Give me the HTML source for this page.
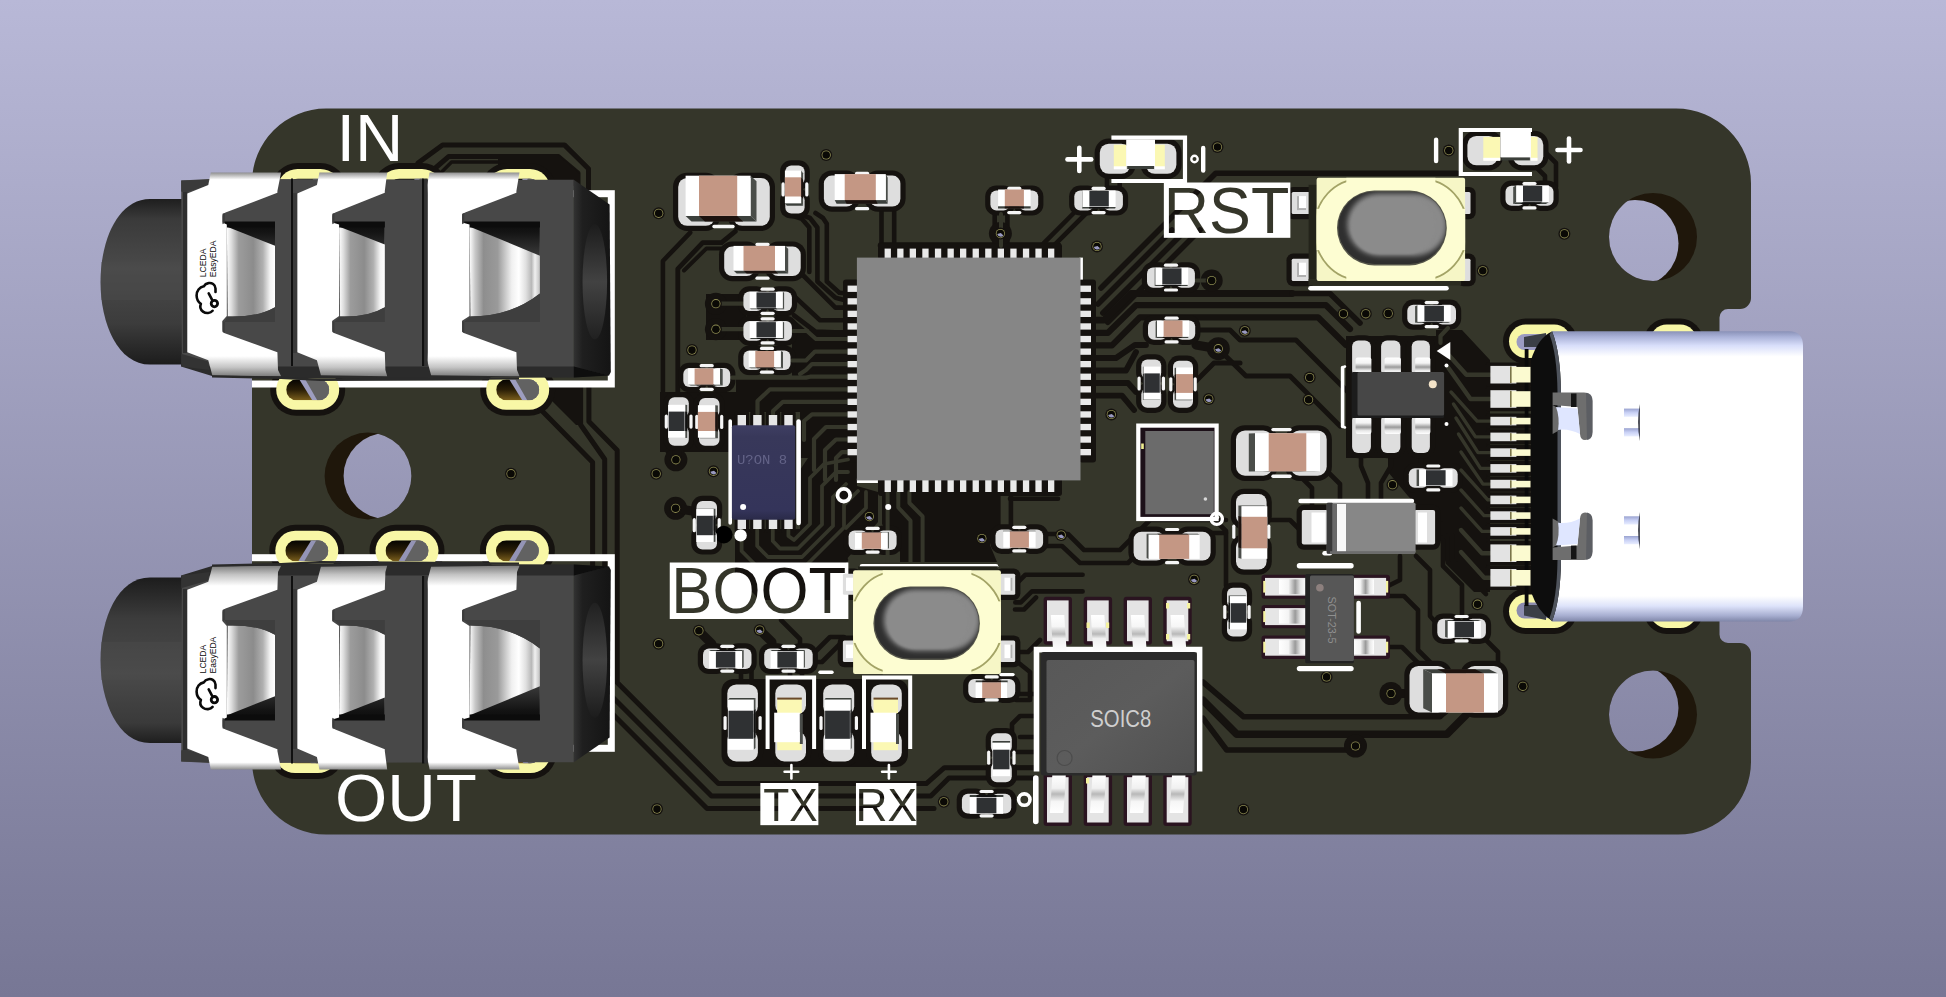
<!DOCTYPE html>
<html lang="en"><head><meta charset="utf-8"><title>PCB 3D view</title>
<style>html,body{margin:0;padding:0;background:#9797b6;overflow:hidden}svg{display:block}</style>
</head><body>
<svg width="1946" height="997" viewBox="0 0 1946 997" font-family="Liberation Sans, Arial, sans-serif"><defs><linearGradient id="bgG" x1="0" y1="0" x2="0" y2="1" ><stop offset="0" stop-color="#b8b8d7"/><stop offset="1" stop-color="#777795"/></linearGradient><clipPath id="boardClip"><path d="M326,108.5 H1676 A75,75 0 0 1 1751,183.5 V298 A11,11 0 0 1 1740,309 H1728 A8.5,8.5 0 0 0 1719.5,317.5 V634.5 A8.5,8.5 0 0 0 1728,643 H1740 A11,11 0 0 1 1751,654 V761.6 A73,73 0 0 1 1678,834.6 H326 A74,74 0 0 1 252,760.6 V182.5 A74,74 0 0 1 326,108.5 Z"/></clipPath><linearGradient id="bgG2" x1="0" y1="0" x2="0" y2="997" gradientUnits="userSpaceOnUse"><stop offset="0" stop-color="#b8b8d7"/><stop offset="1" stop-color="#777795"/></linearGradient><clipPath id="h368_476"><circle cx="368" cy="476" r="43.4"/></clipPath><clipPath id="h1653_237"><circle cx="1653" cy="237" r="44"/></clipPath><clipPath id="h1653_714"><circle cx="1653" cy="714.5" r="44"/></clipPath><linearGradient id="bandG" x1="0" y1="172.5" x2="0" y2="376.5" gradientUnits="userSpaceOnUse"><stop offset="0" stop-color="#8f8f8f"/><stop offset="0.035" stop-color="#ffffff"/><stop offset="0.9" stop-color="#ffffff"/><stop offset="0.955" stop-color="#c4c4c4"/><stop offset="1" stop-color="#7a7a7a"/></linearGradient><linearGradient id="barrelG" x1="0" y1="199" x2="0" y2="365" gradientUnits="userSpaceOnUse"><stop offset="0" stop-color="#1e1e1e"/><stop offset="0.12" stop-color="#3a3a3a"/><stop offset="0.42" stop-color="#4a4a4a"/><stop offset="0.75" stop-color="#3c3c3c"/><stop offset="1" stop-color="#1c1c1c"/></linearGradient><linearGradient id="shadowG" x1="0" y1="222" x2="0" y2="256" gradientUnits="userSpaceOnUse"><stop offset="0" stop-color="#0b0b0b"/><stop offset="0.3" stop-color="#141414"/><stop offset="1" stop-color="#3a3a3a"/></linearGradient><linearGradient id="endG" x1="573" y1="0" x2="611" y2="0" gradientUnits="userSpaceOnUse"><stop offset="0" stop-color="#343434"/><stop offset="0.25" stop-color="#1f1f1f"/><stop offset="1" stop-color="#141414"/></linearGradient><linearGradient id="holeG" x1="0" y1="224" x2="0" y2="340" gradientUnits="userSpaceOnUse"><stop offset="0" stop-color="#1c1c1c"/><stop offset="0.5" stop-color="#424242"/><stop offset="1" stop-color="#202020"/></linearGradient><linearGradient id="cyl1" x1="226.8" y1="0" x2="275.0" y2="0" gradientUnits="userSpaceOnUse"><stop offset="0" stop-color="#ffffff"/><stop offset="0.1" stop-color="#dcdcdc"/><stop offset="0.25" stop-color="#9c9c9c"/><stop offset="0.55" stop-color="#8c8c8c"/><stop offset="0.75" stop-color="#b0b0b0"/><stop offset="0.9" stop-color="#f4f4f4"/><stop offset="1" stop-color="#ffffff"/></linearGradient><linearGradient id="cyl2" x1="339.1" y1="0" x2="384.8" y2="0" gradientUnits="userSpaceOnUse"><stop offset="0" stop-color="#ffffff"/><stop offset="0.1" stop-color="#dcdcdc"/><stop offset="0.25" stop-color="#9c9c9c"/><stop offset="0.55" stop-color="#8c8c8c"/><stop offset="0.75" stop-color="#b0b0b0"/><stop offset="0.9" stop-color="#f4f4f4"/><stop offset="1" stop-color="#ffffff"/></linearGradient><linearGradient id="cyl3" x1="469.5" y1="0" x2="539.9" y2="0" gradientUnits="userSpaceOnUse"><stop offset="0" stop-color="#ffffff"/><stop offset="0.08" stop-color="#c8c8c8"/><stop offset="0.2" stop-color="#8e8e8e"/><stop offset="0.4" stop-color="#9a9a9a"/><stop offset="0.6" stop-color="#f0f0f0"/><stop offset="0.7" stop-color="#ffffff"/><stop offset="0.8" stop-color="#e0e0e0"/><stop offset="0.88" stop-color="#b8b8b8"/><stop offset="0.93" stop-color="#f0f0f0"/><stop offset="1" stop-color="#c0c0c0"/></linearGradient><g id="jack"><path d="M185,199 H150 C118,199 100.5,240 100.5,282 C100.5,324 118,364.6 150,364.6 H185 Z" fill="url(#barrelG)" /><path d="M101,262 H185 V300 H101 Z" fill="#4c4c4c" opacity="0.35"/><path d="M181,354 L573.8,366 L609.6,375 L573.8,377.5 L320,378.8 L212,376 L181,366.4 Z" fill="#2b2b2b" /><path d="M181.2,180.4 L208.3,179 L573.8,179.8 L573.8,366.4 L208.3,366.4 L181.8,366.4 Z" fill="#484848" /><path d="M181.2,180.4 L208.3,179.8 L208.3,185.4 L184.9,192.8 L181.2,191.5 Z" fill="#3a3a3a" /><path d="M181.8,354.1 L208.3,361.5 L209.6,370.1 L181.8,366.4 Z" fill="#333333" /><path d="M183,192 L187.3,192 L187.3,353 L183,353 Z" fill="#2e2e2e" /><path d="M573.8,179.8 L609.6,204.5 L610.8,372 L609,375.5 L573.8,366.4 Z" fill="url(#endG)" /><ellipse cx="594.8" cy="281.7" rx="12.3" ry="57.6" fill="url(#holeG)"/><path d="M573.8,366.4 L609.6,375.5 L573.8,377.5 Z" fill="#0e0e0e" /><path d="M226.8,222.0 H275.0 V307.2 Q256.9,317.5 227.8,316.5 Z" fill="url(#cyl1)"/><path d="M227.8,316.5 Q256.9,317.5 275.0,307.2 V322 H224.5 Z" fill="#3e3e3e"/><path d="M223.5,222.0 H275.0 V245.7 L227.8,227.0 Z" fill="url(#shadowG)"/><path d="M223.5,221.5 H275.0 V227.5 H226.8 Z" fill="#0c0c0c"/><path d="M210.8,172.5 H281.1 L277.4,190.9 L277.4,192.8 L225.5,212.6 Q222.5,213.8 222.5,216.5 L222.5,222.5 L226.8,224.5 L226.8,316 L222.5,320.8 L222.5,329.5 Q222.5,332.4 225.5,333.6 L277.4,352.3 L278.0,370 L281.1,376.3 L212.3,375.3 L208.3,360.3 L187.3,352.3 L187.3,193.4 L208.3,185 Z" fill="url(#bandG)"/><path d="M222.5,213.8 L224.7,213 L224.7,223 L222.5,224.2 Z" fill="#3c3c3c"/><path d="M222.5,321 L224.7,322 L224.7,333 L222.5,332 Z" fill="#3c3c3c"/><path d="M339.1,222.0 H384.8 V307.2 Q367.95000000000005,317.5 340.1,316.5 Z" fill="url(#cyl2)"/><path d="M340.1,316.5 Q367.95000000000005,317.5 384.8,307.2 V322 H334.3 Z" fill="#3e3e3e"/><path d="M333.3,222.0 H384.8 V244.6 L340.1,227.0 Z" fill="url(#shadowG)"/><path d="M333.3,221.5 H384.8 V227.5 H339.1 Z" fill="#0c0c0c"/><path d="M319.4,172.5 H387.2 L384.8,190.9 L384.8,192.8 L335.3,212.6 Q332.3,213.8 332.3,216.5 L332.3,222.5 L339.1,224.5 L339.1,316 L332.3,320.8 L332.3,329.5 Q332.3,332.4 335.3,333.6 L384.8,352.3 L385.40000000000003,370 L387.2,376.3 L320.9,375.3 L316.9,360.3 L297.2,352.3 L297.2,193.4 L316.9,185 Z" fill="url(#bandG)"/><path d="M332.3,213.8 L334.5,213 L334.5,223 L332.3,224.2 Z" fill="#3c3c3c"/><path d="M332.3,321 L334.5,322 L334.5,333 L332.3,332 Z" fill="#3c3c3c"/><path d="M469.5,222.0 H539.9 V293.6 Q510.7,316.5 470.5,316.5 Z" fill="url(#cyl3)"/><path d="M470.5,316.5 Q510.7,316.5 539.9,293.6 V322 H464.1 Z" fill="#3e3e3e"/><path d="M463.1,222.0 H539.9 V255.7 L470.5,227.0 Z" fill="url(#shadowG)"/><path d="M463.1,221.5 H539.9 V227.5 H469.5 Z" fill="#0c0c0c"/><path d="M429.6,172.5 H519.5 L516.4,190.9 L516.4,192.8 L465.1,212.6 Q462.1,213.8 462.1,216.5 L462.1,222.5 L469.5,224.5 L469.5,316 L462.1,320.8 L462.1,329.5 Q462.1,332.4 465.1,333.6 L516.4,352.3 L517.0,370 L519.5,376.3 L431.1,375.3 L427.1,360.3 L427.6,352.3 L427.6,193.4 L427.1,185 Z" fill="url(#bandG)"/><path d="M462.1,213.8 L464.3,213 L464.3,223 L462.1,224.2 Z" fill="#3c3c3c"/><path d="M462.1,321 L464.3,322 L464.3,333 L462.1,332 Z" fill="#3c3c3c"/><path d="M291,178.5 H293 V366 H291 Z" fill="#101010" /><path d="M293,193 H297.2 V353 H293 Z" fill="#3a3a3a" /><path d="M422,178.5 H424.5 V366 H422 Z" fill="#101010" /><path d="M424.5,178.5 H427.6 V366 H424.5 Z" fill="#333333" /><path d="M212,375.6 L281,376.6 L320.6,378.8 L387,377.5 L430,378 L519,377.2 L519,379.5 L430,380.2 L320,381 L281,379 L212,377.5 Z" fill="#2a2a2a" /></g><linearGradient id="purG" x1="0" y1="0" x2="0" y2="1" ><stop offset="0" stop-color="#3f3f63"/><stop offset="0.12" stop-color="#38385a"/><stop offset="0.9" stop-color="#34345a"/><stop offset="1" stop-color="#2a2a48"/></linearGradient><linearGradient id="pinV" x1="0" y1="0" x2="0" y2="1" ><stop offset="0" stop-color="#ffffff"/><stop offset="0.35" stop-color="#f4f4f4"/><stop offset="0.6" stop-color="#9a9a9a"/><stop offset="0.8" stop-color="#e8e8e8"/><stop offset="1" stop-color="#ffffff"/></linearGradient><linearGradient id="pinH" x1="0" y1="0" x2="1" y2="0" ><stop offset="0" stop-color="#ffffff"/><stop offset="0.35" stop-color="#f4f4f4"/><stop offset="0.6" stop-color="#9a9a9a"/><stop offset="0.8" stop-color="#e8e8e8"/><stop offset="1" stop-color="#ffffff"/></linearGradient><linearGradient id="soicG" x1="0" y1="0" x2="1" y2="1" ><stop offset="0" stop-color="#585858"/><stop offset="0.5" stop-color="#5c5c5c"/><stop offset="1" stop-color="#505050"/></linearGradient><linearGradient id="legG" x1="0" y1="615" x2="0" y2="653" gradientUnits="userSpaceOnUse"><stop offset="0" stop-color="#ffffff"/><stop offset="0.3" stop-color="#f6f6f6"/><stop offset="0.5" stop-color="#b8b8b8"/><stop offset="0.62" stop-color="#f0f0f0"/><stop offset="1" stop-color="#ffffff"/></linearGradient><linearGradient id="legG2" x1="0" y1="775" x2="0" y2="813" gradientUnits="userSpaceOnUse"><stop offset="0" stop-color="#ffffff"/><stop offset="0.35" stop-color="#f0f0f0"/><stop offset="0.5" stop-color="#b8b8b8"/><stop offset="0.7" stop-color="#f6f6f6"/><stop offset="1" stop-color="#ffffff"/></linearGradient><linearGradient id="usbG" x1="0" y1="331" x2="0" y2="621.5" gradientUnits="userSpaceOnUse"><stop offset="0" stop-color="#8890b6"/><stop offset="0.02" stop-color="#aab2d8"/><stop offset="0.05" stop-color="#d8defa"/><stop offset="0.088" stop-color="#ffffff"/><stop offset="0.912" stop-color="#ffffff"/><stop offset="0.947" stop-color="#dde3fa"/><stop offset="0.98" stop-color="#a7aed0"/><stop offset="1" stop-color="#7f86a8"/></linearGradient><linearGradient id="notchG" x1="0" y1="0" x2="0" y2="1" ><stop offset="0" stop-color="#9aa3d0"/><stop offset="0.5" stop-color="#c9d1f5"/><stop offset="1" stop-color="#e8edff"/></linearGradient><linearGradient id="ovalG" x1="0" y1="1" x2="1" y2="0.2" ><stop offset="0" stop-color="#454545"/><stop offset="0.22" stop-color="#7c7c7c"/><stop offset="0.5" stop-color="#8a8a8a"/><stop offset="1" stop-color="#909090"/></linearGradient><filter id="blur3" x="-10%" y="-10%" width="120%" height="120%"><feGaussianBlur stdDeviation="2.6"/></filter><filter id="blur1"><feGaussianBlur stdDeviation="1"/></filter><clipPath id="bc1316"><rect x="1316.6" y="177.8" width="148.5" height="103.19999999999999" rx="3"/></clipPath><clipPath id="ov1316"><rect x="1338.2" y="191.4" width="107.59999999999991" height="72.6" rx="36.3"/></clipPath><clipPath id="bc853"><rect x="853.1" y="570.3" width="147.79999999999995" height="103.80000000000007" rx="3"/></clipPath><clipPath id="ov853"><rect x="874.6" y="587.3" width="104.29999999999995" height="71.40000000000009" rx="35.700000000000045"/></clipPath><mask id="mRST" maskUnits="userSpaceOnUse" x="1161.6" y="180.3" width="131.0" height="59.599999999999994"><rect x="1163.6" y="182.3" width="127.0" height="55.599999999999994" fill="#fff"/><text x="1163.8" y="232.6" font-size="64.3" textLength="125.5" lengthAdjust="spacingAndGlyphs" fill="#000">RST</text></mask><mask id="mBOOT" maskUnits="userSpaceOnUse" x="667.5" y="560.3" width="183.10000000000002" height="60.700000000000045"><rect x="669.5" y="562.3" width="179.10000000000002" height="56.700000000000045" fill="#fff"/><text x="671.2" y="613.0" font-size="64.8" textLength="175" lengthAdjust="spacingAndGlyphs" fill="#000">BOOT</text></mask><mask id="mTX" maskUnits="userSpaceOnUse" x="758.2" y="781" width="62.39999999999998" height="46.39999999999998"><rect x="760.2" y="783" width="58.39999999999998" height="42.39999999999998" fill="#fff"/><text x="763.3" y="820.8" font-size="46.2" textLength="54.5" lengthAdjust="spacingAndGlyphs" fill="#000">TX</text></mask><mask id="mRX" maskUnits="userSpaceOnUse" x="853.8" y="781" width="64.80000000000007" height="46.39999999999998"><rect x="855.8" y="783" width="60.80000000000007" height="42.39999999999998" fill="#fff"/><text x="855.6" y="820.8" font-size="46.2" textLength="61.5" lengthAdjust="spacingAndGlyphs" fill="#000">RX</text></mask><linearGradient id="wallT" x1="0" y1="0" x2="0" y2="1" ><stop offset="0" stop-color="#050402"/><stop offset="0.5" stop-color="#2a1e06"/><stop offset="1" stop-color="#7a5e1c"/></linearGradient><linearGradient id="wallB" x1="0" y1="0" x2="0" y2="1" ><stop offset="0" stop-color="#7a5e1c"/><stop offset="0.5" stop-color="#2a1e06"/><stop offset="1" stop-color="#050402"/></linearGradient><clipPath id="jp309_169"><rect x="287.5" y="178.5" width="43" height="21" rx="10.5"/></clipPath><clipPath id="jp410_169"><rect x="389.0" y="178.5" width="43" height="21" rx="10.5"/></clipPath><clipPath id="jp518_169"><rect x="497.0" y="178.5" width="43" height="21" rx="10.5"/></clipPath><clipPath id="jp307_369"><rect x="286.2" y="379.3" width="43" height="21" rx="10.5"/></clipPath><clipPath id="jp517_369"><rect x="496.20000000000005" y="379.3" width="43" height="21" rx="10.5"/></clipPath><clipPath id="jp306_530"><rect x="285.3" y="540.3" width="43" height="21" rx="10.5"/></clipPath><clipPath id="jp407_530"><rect x="385.5" y="540.3" width="43" height="21" rx="10.5"/></clipPath><clipPath id="jp517_530"><rect x="495.9" y="540.3" width="43" height="21" rx="10.5"/></clipPath><clipPath id="jp306_733"><rect x="285.0" y="742.5" width="43" height="21" rx="10.5"/></clipPath><clipPath id="jp519_733"><rect x="497.5" y="742.5" width="43" height="21" rx="10.5"/></clipPath></defs>
<rect x="0.0" y="0.0" width="1946.0" height="997.0" fill="url(#bgG)"/>
<path d="M326,108.5 H1676 A75,75 0 0 1 1751,183.5 V298 A11,11 0 0 1 1740,309 H1728 A8.5,8.5 0 0 0 1719.5,317.5 V634.5 A8.5,8.5 0 0 0 1728,643 H1740 A11,11 0 0 1 1751,654 V761.6 A73,73 0 0 1 1678,834.6 H326 A74,74 0 0 1 252,760.6 V182.5 A74,74 0 0 1 326,108.5 Z" fill="#35362a"/>
<circle cx="368.0" cy="476.0" r="43.4" fill="#1f170b"/>
<circle cx="386.5" cy="476" r="42.9" fill="url(#bgG2)" clip-path="url(#h368_476)"/>
<circle cx="1653.0" cy="237.0" r="44" fill="#1f170b"/>
<circle cx="1635" cy="243.5" r="43.5" fill="url(#bgG2)" clip-path="url(#h1653_237)"/>
<circle cx="1653.0" cy="714.5" r="44" fill="#1f170b"/>
<circle cx="1635" cy="708.0" r="43.5" fill="url(#bgG2)" clip-path="url(#h1653_714)"/>
<g clip-path="url(#boardClip)">
<path d="M418.0,163.0 L442.6,144.9 L564.4,144.9 L588.5,168.7 L588.5,195.0" fill="none" stroke="#15120f" stroke-width="5.0" stroke-linejoin="round" stroke-linecap="round"/>
<path d="M433.0,170.0 L448.6,156.6 L558.4,156.6 L578.0,173.2 L578.0,195.0" fill="none" stroke="#15120f" stroke-width="5.0" stroke-linejoin="round" stroke-linecap="round"/>
<path d="M442.6,171.0 L451.6,162.0 L498.0,162.0" fill="none" stroke="#15120f" stroke-width="3.6" stroke-linejoin="round" stroke-linecap="round"/>
<path d="M498.0,155.0 L558.0,155.0 L580.0,174.0 L580.0,186.0 L498.0,186.0 Z" fill="#15120f"/>
<path d="M588.9,385.0 L588.9,421.6 L617.2,450.2 L617.2,682.5 L718.3,783.6 L926.3,783.6 L944.4,767.7 L1036.0,767.7" fill="none" stroke="#15120f" stroke-width="5.0" stroke-linejoin="round" stroke-linecap="round"/>
<path d="M580.6,385.0 L580.6,424.7 L604.7,459.3 L604.7,689.2 L711.5,796.0 L930.8,796.0 L948.9,777.9 L1036.0,777.9" fill="none" stroke="#15120f" stroke-width="5.0" stroke-linejoin="round" stroke-linecap="round"/>
<path d="M540.7,409.6 L592.6,462.3 L592.6,694.0 L707.0,808.5 L934.0,808.5" fill="none" stroke="#15120f" stroke-width="5.0" stroke-linejoin="round" stroke-linecap="round"/>
<path d="M536.0,386.0 L583.0,386.0 L583.0,425.0 L576.0,425.0 L547.0,396.0 Z" fill="#15120f"/>
<path d="M690.2,232.6 L662.9,261.0 L662.9,440.0 L668.0,452.0" fill="none" stroke="#15120f" stroke-width="4.6" stroke-linejoin="round" stroke-linecap="round"/>
<path d="M735.3,231.3 L721.5,242.6 L702.7,242.6 L677.8,268.9 L677.8,394.0" fill="none" stroke="#15120f" stroke-width="4.8" stroke-linejoin="round" stroke-linecap="round"/>
<path d="M722.0,248.4 L706.5,248.4 L684.0,270.5" fill="none" stroke="#15120f" stroke-width="4.0" stroke-linejoin="round" stroke-linecap="round"/>
<path d="M784.2,213.0 L801.8,218.8 L809.3,227.5 L809.3,272.0" fill="none" stroke="#15120f" stroke-width="4.6" stroke-linejoin="round" stroke-linecap="round"/>
<path d="M796.7,213.0 L810.0,218.0 L817.4,227.5 L817.4,281.5 L835.6,297.8 L848.0,301.0" fill="none" stroke="#15120f" stroke-width="4.6" stroke-linejoin="round" stroke-linecap="round"/>
<path d="M815.5,213.0 L823.0,218.0 L826.8,223.8 L826.8,281.5 L839.4,292.7 L848.0,293.5" fill="none" stroke="#15120f" stroke-width="4.6" stroke-linejoin="round" stroke-linecap="round"/>
<path d="M801.8,274.0 L835.4,307.6 L848.0,307.6" fill="none" stroke="#15120f" stroke-width="4.6" stroke-linejoin="round" stroke-linecap="round"/>
<path d="M795.0,297.0 L820.0,320.2 L848.0,320.2" fill="none" stroke="#15120f" stroke-width="4.6" stroke-linejoin="round" stroke-linecap="round"/>
<path d="M794.0,315.3 L815.5,331.6 L848.0,332.8" fill="none" stroke="#15120f" stroke-width="4.6" stroke-linejoin="round" stroke-linecap="round"/>
<path d="M792.0,318.0 L806.0,330.0 L848.0,330.0 L848.0,458.0 L800.0,458.0 L800.0,412.0 L728.0,412.0 L728.0,392.0 L736.0,392.0 L736.0,376.0 L792.0,376.0 Z" fill="#15120f"/>
<path d="M660.0,392.0 L736.0,392.0 L736.0,452.0 L660.0,452.0 Z" fill="#15120f"/>
<path d="M706.0,294.0 L746.0,294.0 L746.0,340.0 L706.0,340.0 Z" fill="#15120f"/>
<circle cx="715.9" cy="303.7" r="11" fill="#15120f"/>
<circle cx="715.9" cy="329.2" r="11" fill="#15120f"/>
<path d="M881.5,208.0 L881.5,245.0" fill="none" stroke="#15120f" stroke-width="4.6" stroke-linejoin="round" stroke-linecap="round"/>
<path d="M894.2,208.0 L894.2,245.0" fill="none" stroke="#15120f" stroke-width="4.6" stroke-linejoin="round" stroke-linecap="round"/>
<path d="M881.0,245.5 L1058.0,245.5" fill="none" stroke="#15120f" stroke-width="6.5" stroke-linejoin="round" stroke-linecap="round"/>
<path d="M994.7,212.0 L994.7,244.0" fill="none" stroke="#15120f" stroke-width="4.6" stroke-linejoin="round" stroke-linecap="round"/>
<path d="M1007.4,212.0 L1007.4,244.0" fill="none" stroke="#15120f" stroke-width="4.6" stroke-linejoin="round" stroke-linecap="round"/>
<circle cx="1000.4" cy="233.6" r="11.5" fill="#15120f"/>
<path d="M1074.8,212.0 L1043.6,243.3" fill="none" stroke="#15120f" stroke-width="4.6" stroke-linejoin="round" stroke-linecap="round"/>
<path d="M1087.5,212.0 L1055.3,244.2 L1055.3,256.0" fill="none" stroke="#15120f" stroke-width="4.6" stroke-linejoin="round" stroke-linecap="round"/>
<path d="M1107.0,175.0 L1107.0,189.0" fill="none" stroke="#15120f" stroke-width="4.6" stroke-linejoin="round" stroke-linecap="round"/>
<path d="M1119.7,175.0 L1119.7,189.0" fill="none" stroke="#15120f" stroke-width="4.6" stroke-linejoin="round" stroke-linecap="round"/>
<path d="M1457.0,173.3 L1215.7,173.3 L1101.0,288.0" fill="none" stroke="#15120f" stroke-width="5.6" stroke-linejoin="round" stroke-linecap="round"/>
<path d="M1172.0,230.0 L1098.0,304.0" fill="none" stroke="#15120f" stroke-width="5.6" stroke-linejoin="round" stroke-linecap="round"/>
<path d="M1186.0,230.0 L1102.9,313.1" fill="none" stroke="#15120f" stroke-width="5.6" stroke-linejoin="round" stroke-linecap="round"/>
<path d="M1200.0,230.0 L1107.8,322.2" fill="none" stroke="#15120f" stroke-width="5.6" stroke-linejoin="round" stroke-linecap="round"/>
<path d="M1092.0,320.2 L1104.0,320.2 L1131.0,293.5 L1292.0,293.5" fill="none" stroke="#15120f" stroke-width="6.8" stroke-linejoin="round" stroke-linecap="round"/>
<path d="M1092.0,332.8 L1108.0,332.8 L1136.0,305.2 L1326.0,305.2 L1350.0,329.0" fill="none" stroke="#15120f" stroke-width="6.2" stroke-linejoin="round" stroke-linecap="round"/>
<path d="M1092.0,345.4 L1112.0,345.4 L1140.0,317.3 L1318.0,317.3 L1346.0,345.0" fill="none" stroke="#15120f" stroke-width="6.2" stroke-linejoin="round" stroke-linecap="round"/>
<path d="M1292.0,293.5 L1330.0,293.5 L1360.0,323.0" fill="none" stroke="#15120f" stroke-width="5.6" stroke-linejoin="round" stroke-linecap="round"/>
<path d="M1092.0,358.0 L1116.0,358.0 L1135.0,345.0 L1146.0,345.0" fill="none" stroke="#15120f" stroke-width="5.8" stroke-linejoin="round" stroke-linecap="round"/>
<path d="M1092.0,370.5 L1126.0,370.5 L1136.0,352.0" fill="none" stroke="#15120f" stroke-width="5.8" stroke-linejoin="round" stroke-linecap="round"/>
<path d="M1092.0,383.0 L1128.0,383.0 L1136.0,392.0" fill="none" stroke="#15120f" stroke-width="5.8" stroke-linejoin="round" stroke-linecap="round"/>
<path d="M1092.0,395.7 L1122.0,395.7 L1134.0,410.0" fill="none" stroke="#15120f" stroke-width="5.8" stroke-linejoin="round" stroke-linecap="round"/>
<circle cx="1211.7" cy="280.5" r="11" fill="#15120f"/>
<circle cx="1218.3" cy="348.7" r="11.5" fill="#15120f"/>
<path d="M1196.0,345.0 L1218.0,348.7" fill="none" stroke="#15120f" stroke-width="9" stroke-linejoin="round" stroke-linecap="round"/>
<path d="M1218.3,348.7 L1246.0,376.0 L1290.0,376.0 L1340.0,426.0" fill="none" stroke="#15120f" stroke-width="5" stroke-linejoin="round" stroke-linecap="round"/>
<path d="M1196.0,330.0 L1230.0,330.0 L1240.0,340.0 L1296.0,340.0 L1352.0,396.0" fill="none" stroke="#15120f" stroke-width="5" stroke-linejoin="round" stroke-linecap="round"/>
<path d="M1193.0,384.0 L1214.0,363.0 L1240.0,363.0" fill="none" stroke="#15120f" stroke-width="5" stroke-linejoin="round" stroke-linecap="round"/>
<path d="M882.0,492.0 L997.7,492.0 L997.7,527.0 L990.0,545.0 L997.0,562.0 L900.0,562.0 L900.0,552.0 L882.0,524.0 Z" fill="#15120f"/>
<path d="M998.3,492.0 L998.3,528.0" fill="none" stroke="#15120f" stroke-width="4.6" stroke-linejoin="round" stroke-linecap="round"/>
<path d="M1010.9,492.0 L1010.9,528.0" fill="none" stroke="#15120f" stroke-width="4.6" stroke-linejoin="round" stroke-linecap="round"/>
<path d="M1010.0,498.7 L1058.0,498.7" fill="none" stroke="#15120f" stroke-width="4.6" stroke-linejoin="round" stroke-linecap="round"/>
<path d="M1015.3,584.8 L1025.2,574.8 L1082.6,574.8" fill="none" stroke="#15120f" stroke-width="4.6" stroke-linejoin="round" stroke-linecap="round"/>
<path d="M1015.3,602.4 L1020.8,602.4 L1031.9,591.4 L1082.6,591.4" fill="none" stroke="#15120f" stroke-width="4.6" stroke-linejoin="round" stroke-linecap="round"/>
<path d="M1015.0,609.5 L1024.0,609.5 L1036.0,597.5" fill="none" stroke="#15120f" stroke-width="4.6" stroke-linejoin="round" stroke-linecap="round"/>
<path d="M1043.0,534.0 L1068.0,534.0 L1084.0,550.0 L1120.0,550.0 L1150.0,520.0 L1226.0,520.0" fill="none" stroke="#15120f" stroke-width="4.6" stroke-linejoin="round" stroke-linecap="round"/>
<path d="M1043.0,546.0 L1062.0,546.0 L1080.0,563.0 L1128.0,563.0 L1158.0,533.0 L1226.0,533.0" fill="none" stroke="#15120f" stroke-width="4.6" stroke-linejoin="round" stroke-linecap="round"/>
<path d="M1015.0,652.0 L1028.0,652.0 L1040.0,640.0" fill="none" stroke="#15120f" stroke-width="4.6" stroke-linejoin="round" stroke-linecap="round"/>
<path d="M1015.0,660.0 L1030.0,672.0 L1030.0,700.0 L1016.0,700.0" fill="none" stroke="#15120f" stroke-width="4.6" stroke-linejoin="round" stroke-linecap="round"/>
<path d="M740.0,530.0 L740.0,548.0 L752.0,560.0 L846.0,560.0" fill="none" stroke="#15120f" stroke-width="4.6" stroke-linejoin="round" stroke-linecap="round"/>
<path d="M757.0,530.0 L757.0,541.0 L765.0,549.0 L835.0,549.0 L846.0,540.0" fill="none" stroke="#15120f" stroke-width="4.6" stroke-linejoin="round" stroke-linecap="round"/>
<path d="M772.5,530.0 L772.5,537.0 L812.0,537.0 L822.0,527.0 L846.0,527.0" fill="none" stroke="#15120f" stroke-width="4.6" stroke-linejoin="round" stroke-linecap="round"/>
<path d="M1346.0,336.0 L1436.0,336.0 L1436.0,330.0 L1462.0,330.0 L1490.0,360.0 L1490.0,592.0 L1474.0,592.0 L1446.0,564.0 L1436.0,524.0 L1408.0,496.0 L1388.0,472.0 L1388.0,458.0 L1346.0,458.0 Z" fill="#15120f"/>
<path d="M1361.0,455.0 L1361.0,466.0 L1368.0,483.0 L1368.0,500.0" fill="none" stroke="#15120f" stroke-width="4.6" stroke-linejoin="round" stroke-linecap="round"/>
<path d="M1391.0,455.0 L1391.0,466.0 L1381.0,483.0 L1381.0,500.0" fill="none" stroke="#15120f" stroke-width="4.6" stroke-linejoin="round" stroke-linecap="round"/>
<path d="M1421.0,455.0 L1421.0,470.0 L1408.0,483.0" fill="none" stroke="#15120f" stroke-width="4.6" stroke-linejoin="round" stroke-linecap="round"/>
<path d="M1437.0,520.0 L1452.0,535.0 L1452.0,560.0 L1486.0,594.0" fill="none" stroke="#15120f" stroke-width="4.6" stroke-linejoin="round" stroke-linecap="round"/>
<path d="M1437.0,534.0 L1443.0,540.0 L1443.0,566.0 L1462.0,585.0 L1462.0,616.0" fill="none" stroke="#15120f" stroke-width="4.6" stroke-linejoin="round" stroke-linecap="round"/>
<path d="M1416.0,556.0 L1430.0,570.0 L1430.0,616.0 L1437.0,624.0" fill="none" stroke="#15120f" stroke-width="4.6" stroke-linejoin="round" stroke-linecap="round"/>
<path d="M1400.0,556.0 L1400.0,580.0 L1388.0,586.0" fill="none" stroke="#15120f" stroke-width="4.6" stroke-linejoin="round" stroke-linecap="round"/>
<path d="M1388.0,647.0 L1402.0,647.0 L1420.0,665.0" fill="none" stroke="#15120f" stroke-width="4.6" stroke-linejoin="round" stroke-linecap="round"/>
<path d="M1388.0,596.0 L1404.0,596.0 L1418.0,610.0 L1418.0,650.0 L1430.0,662.0" fill="none" stroke="#15120f" stroke-width="4.6" stroke-linejoin="round" stroke-linecap="round"/>
<path d="M1486.0,640.0 L1498.0,652.0 L1498.0,664.0" fill="none" stroke="#15120f" stroke-width="4.6" stroke-linejoin="round" stroke-linecap="round"/>
<path d="M1202.9,682.0 L1243.7,716.8 L1440.0,716.8 L1448.0,709.0" fill="none" stroke="#15120f" stroke-width="5.6" stroke-linejoin="round" stroke-linecap="round"/>
<path d="M1202.9,700.2 L1236.8,734.3 L1446.9,734.3 L1470.0,711.0" fill="none" stroke="#15120f" stroke-width="7.6" stroke-linejoin="round" stroke-linecap="round"/>
<path d="M1202.9,718.3 L1226.7,750.0 L1347.0,750.0" fill="none" stroke="#15120f" stroke-width="5.6" stroke-linejoin="round" stroke-linecap="round"/>
<circle cx="1355.5" cy="746.0" r="11.5" fill="#15120f"/>
<circle cx="1391.0" cy="693.5" r="11.5" fill="#15120f"/>
<path d="M1391.0,693.5 L1410.0,693.5" fill="none" stroke="#15120f" stroke-width="9" stroke-linejoin="round" stroke-linecap="round"/>
<path d="M1036.0,694.0 L1016.0,694.0" fill="none" stroke="#15120f" stroke-width="4.6" stroke-linejoin="round" stroke-linecap="round"/>
<path d="M1036.0,716.0 L1020.0,716.0 L1012.0,724.0 L1012.0,734.0" fill="none" stroke="#15120f" stroke-width="4.6" stroke-linejoin="round" stroke-linecap="round"/>
<path d="M1036.0,737.0 L1020.0,737.0" fill="none" stroke="#15120f" stroke-width="4.6" stroke-linejoin="round" stroke-linecap="round"/>
<path d="M1036.0,752.0 L1016.0,752.0" fill="none" stroke="#15120f" stroke-width="4.6" stroke-linejoin="round" stroke-linecap="round"/>
<path d="M1036.0,767.7 L1016.0,767.7" fill="none" stroke="#15120f" stroke-width="4.6" stroke-linejoin="round" stroke-linecap="round"/>
<path d="M1266.0,520.0 L1290.0,520.0 L1302.0,532.0" fill="none" stroke="#15120f" stroke-width="4.6" stroke-linejoin="round" stroke-linecap="round"/>
<path d="M1215.0,520.0 L1226.0,531.0 L1226.0,586.0" fill="none" stroke="#15120f" stroke-width="4.6" stroke-linejoin="round" stroke-linecap="round"/>
<path d="M1326.0,470.0 L1340.0,484.0 L1340.0,500.0" fill="none" stroke="#15120f" stroke-width="4.6" stroke-linejoin="round" stroke-linecap="round"/>
<path d="M1300.0,476.0 L1312.0,488.0 L1312.0,508.0" fill="none" stroke="#15120f" stroke-width="4.6" stroke-linejoin="round" stroke-linecap="round"/>
<path d="M735.0,529.0 L800.0,529.0 L800.0,470.0 L812.0,452.0 L857.0,452.0 L857.0,486.0 L878.0,492.0 L878.0,522.0 L846.0,560.0 L846.0,600.0 L760.0,600.0 L735.0,575.0 Z" fill="#15120f"/>
<path d="M698.9,630.8 L712.0,644.0 L712.0,650.0" fill="none" stroke="#15120f" stroke-width="9" stroke-linejoin="round" stroke-linecap="round"/>
<path d="M759.7,630.0 L772.0,642.0 L772.0,650.0" fill="none" stroke="#15120f" stroke-width="9" stroke-linejoin="round" stroke-linecap="round"/>
<path d="M741.0,650.0 L741.0,684.0" fill="none" stroke="#15120f" stroke-width="4.6" stroke-linejoin="round" stroke-linecap="round"/>
<path d="M751.5,668.0 L751.5,684.0" fill="none" stroke="#15120f" stroke-width="4.6" stroke-linejoin="round" stroke-linecap="round"/>
<path d="M790.0,668.0 L790.0,678.0" fill="none" stroke="#15120f" stroke-width="4.6" stroke-linejoin="round" stroke-linecap="round"/>
<path d="M802.0,668.0 L802.0,678.0" fill="none" stroke="#15120f" stroke-width="4.6" stroke-linejoin="round" stroke-linecap="round"/>
<path d="M812.0,655.0 L830.0,637.0 L844.0,637.0" fill="none" stroke="#15120f" stroke-width="4.6" stroke-linejoin="round" stroke-linecap="round"/>
<path d="M812.0,662.0 L822.0,662.0 L840.0,644.0" fill="none" stroke="#15120f" stroke-width="4.6" stroke-linejoin="round" stroke-linecap="round"/>
<path d="M781.0,620.0 L800.0,639.0 L800.0,650.0" fill="none" stroke="#15120f" stroke-width="4.6" stroke-linejoin="round" stroke-linecap="round"/>
<circle cx="675.9" cy="459.8" r="11.5" fill="#15120f"/>
<circle cx="675.6" cy="508.3" r="11.5" fill="#15120f"/>
<path d="M675.9,459.8 L678.0,447.0" fill="none" stroke="#15120f" stroke-width="9" stroke-linejoin="round" stroke-linecap="round"/>
<path d="M675.6,508.3 L698.0,512.0" fill="none" stroke="#15120f" stroke-width="9" stroke-linejoin="round" stroke-linecap="round"/>
<path d="M1543.0,150.0 L1556.0,163.0 L1556.0,187.0" fill="none" stroke="#15120f" stroke-width="4.6" stroke-linejoin="round" stroke-linecap="round"/>
<path d="M1536.0,167.0 L1545.0,176.0 L1545.0,187.0" fill="none" stroke="#15120f" stroke-width="4.6" stroke-linejoin="round" stroke-linecap="round"/>
<rect x="673.0" y="172.7" width="47.0" height="58.3" fill="#15120f" rx="14.2"/>
<rect x="728.0" y="172.7" width="47.0" height="58.3" fill="#15120f" rx="14.2"/>
<rect x="780.1" y="160.3" width="29.7" height="29.6" fill="#15120f" rx="11.2"/>
<rect x="780.1" y="189.0" width="29.7" height="29.6" fill="#15120f" rx="11.2"/>
<rect x="818.7" y="170.4" width="41.0" height="41.3" fill="#15120f" rx="13.2"/>
<rect x="864.6" y="170.4" width="41.0" height="41.3" fill="#15120f" rx="13.2"/>
<rect x="719.0" y="241.4" width="41.0" height="39.8" fill="#15120f" rx="13.2"/>
<rect x="764.9" y="241.4" width="41.0" height="39.8" fill="#15120f" rx="13.2"/>
<rect x="738.2" y="286.2" width="29.8" height="30.1" fill="#15120f" rx="11.2"/>
<rect x="767.3" y="286.2" width="29.8" height="30.1" fill="#15120f" rx="11.2"/>
<rect x="738.2" y="315.8" width="29.8" height="30.1" fill="#15120f" rx="11.2"/>
<rect x="767.3" y="315.8" width="29.8" height="30.1" fill="#15120f" rx="11.2"/>
<rect x="738.2" y="345.4" width="29.2" height="29.8" fill="#15120f" rx="11.2"/>
<rect x="766.5" y="345.4" width="29.2" height="29.8" fill="#15120f" rx="11.2"/>
<rect x="678.1" y="362.7" width="29.2" height="29.6" fill="#15120f" rx="11.2"/>
<rect x="706.2" y="362.7" width="29.2" height="29.6" fill="#15120f" rx="11.2"/>
<rect x="663.3" y="392.1" width="30.7" height="29.8" fill="#15120f" rx="11.2"/>
<rect x="663.3" y="421.2" width="30.7" height="29.8" fill="#15120f" rx="11.2"/>
<rect x="693.8" y="392.8" width="30.9" height="29.5" fill="#15120f" rx="11.2"/>
<rect x="693.8" y="421.5" width="30.9" height="29.5" fill="#15120f" rx="11.2"/>
<rect x="691.3" y="495.8" width="30.9" height="29.8" fill="#15120f" rx="11.2"/>
<rect x="691.3" y="524.8" width="30.9" height="29.8" fill="#15120f" rx="11.2"/>
<rect x="985.2" y="185.4" width="29.5" height="30.2" fill="#15120f" rx="11.2"/>
<rect x="1013.9" y="185.4" width="29.5" height="30.2" fill="#15120f" rx="11.2"/>
<rect x="1069.1" y="185.4" width="29.8" height="30.2" fill="#15120f" rx="11.2"/>
<rect x="1098.3" y="185.4" width="29.8" height="30.2" fill="#15120f" rx="11.2"/>
<rect x="1141.8" y="262.2" width="29.6" height="30.8" fill="#15120f" rx="11.2"/>
<rect x="1170.5" y="262.2" width="29.6" height="30.8" fill="#15120f" rx="11.2"/>
<rect x="1142.8" y="315.2" width="29.3" height="29.7" fill="#15120f" rx="11.2"/>
<rect x="1171.1" y="315.2" width="29.3" height="29.7" fill="#15120f" rx="11.2"/>
<rect x="1136.1" y="354.2" width="30.3" height="29.7" fill="#15120f" rx="11.2"/>
<rect x="1136.1" y="383.2" width="30.3" height="29.7" fill="#15120f" rx="11.2"/>
<rect x="1167.8" y="355.6" width="30.4" height="29.2" fill="#15120f" rx="11.2"/>
<rect x="1167.8" y="383.7" width="30.4" height="29.2" fill="#15120f" rx="11.2"/>
<rect x="1500.3" y="180.5" width="29.6" height="30.4" fill="#15120f" rx="11.2"/>
<rect x="1529.1" y="180.5" width="29.6" height="30.4" fill="#15120f" rx="11.2"/>
<rect x="1402.1" y="299.6" width="29.9" height="30.1" fill="#15120f" rx="11.2"/>
<rect x="1431.3" y="299.6" width="29.9" height="30.1" fill="#15120f" rx="11.2"/>
<rect x="1403.6" y="463.0" width="30.0" height="29.9" fill="#15120f" rx="11.2"/>
<rect x="1432.9" y="463.0" width="30.0" height="29.9" fill="#15120f" rx="11.2"/>
<rect x="1432.1" y="613.5" width="29.8" height="30.4" fill="#15120f" rx="11.2"/>
<rect x="1461.3" y="613.5" width="29.8" height="30.4" fill="#15120f" rx="11.2"/>
<rect x="1221.8" y="582.5" width="30.3" height="29.9" fill="#15120f" rx="11.2"/>
<rect x="1221.8" y="611.7" width="30.3" height="29.9" fill="#15120f" rx="11.2"/>
<rect x="1230.8" y="425.2" width="46.7" height="55.7" fill="#15120f" rx="14.2"/>
<rect x="1285.2" y="425.2" width="46.7" height="55.7" fill="#15120f" rx="14.2"/>
<rect x="1128.4" y="526.5" width="41.2" height="39.2" fill="#15120f" rx="13.2"/>
<rect x="1174.6" y="526.5" width="41.2" height="39.2" fill="#15120f" rx="13.2"/>
<rect x="1230.8" y="488.8" width="41.0" height="40.6" fill="#15120f" rx="13.2"/>
<rect x="1230.8" y="534.1" width="41.0" height="40.6" fill="#15120f" rx="13.2"/>
<rect x="843.4" y="525.4" width="29.6" height="29.7" fill="#15120f" rx="11.2"/>
<rect x="872.2" y="525.4" width="29.6" height="29.7" fill="#15120f" rx="11.2"/>
<rect x="990.3" y="524.3" width="29.4" height="29.6" fill="#15120f" rx="11.2"/>
<rect x="1018.9" y="524.3" width="29.4" height="29.6" fill="#15120f" rx="11.2"/>
<rect x="963.1" y="673.9" width="29.2" height="29.0" fill="#15120f" rx="11.2"/>
<rect x="991.2" y="673.9" width="29.2" height="29.0" fill="#15120f" rx="11.2"/>
<rect x="697.8" y="643.3" width="29.8" height="30.8" fill="#15120f" rx="11.2"/>
<rect x="726.9" y="643.3" width="29.8" height="30.8" fill="#15120f" rx="11.2"/>
<rect x="759.0" y="643.3" width="29.8" height="30.8" fill="#15120f" rx="11.2"/>
<rect x="788.1" y="643.3" width="29.8" height="30.8" fill="#15120f" rx="11.2"/>
<rect x="985.7" y="728.0" width="31.3" height="30.0" fill="#15120f" rx="11.2"/>
<rect x="985.7" y="757.5" width="31.3" height="30.0" fill="#15120f" rx="11.2"/>
<rect x="956.7" y="788.5" width="30.2" height="30.3" fill="#15120f" rx="11.2"/>
<rect x="986.3" y="788.5" width="30.2" height="30.3" fill="#15120f" rx="11.2"/>
<rect x="1404.3" y="660.7" width="47.8" height="57.0" fill="#15120f" rx="14.2"/>
<rect x="1460.4" y="660.7" width="47.8" height="57.0" fill="#15120f" rx="14.2"/>
<rect x="721.5" y="679.0" width="186.5" height="88.0" fill="#15120f" rx="12"/>
<rect x="722.1" y="679.2" width="41.0" height="41.2" fill="#15120f" rx="14.2"/>
<rect x="722.1" y="725.5" width="41.0" height="41.2" fill="#15120f" rx="14.2"/>
<rect x="818.0" y="679.2" width="41.4" height="41.2" fill="#15120f" rx="14.2"/>
<rect x="818.0" y="725.5" width="41.4" height="41.2" fill="#15120f" rx="14.2"/>
<rect x="878.0" y="243.5" width="184.0" height="16.0" fill="#15120f" rx="3"/>
<rect x="878.0" y="478.0" width="184.0" height="18.0" fill="#15120f" rx="3"/>
<rect x="843.0" y="279.5" width="16.0" height="183.0" fill="#15120f" rx="3"/>
<rect x="1079.0" y="279.5" width="17.0" height="183.0" fill="#15120f" rx="3"/>
<rect x="734.6" y="411.0" width="14.4" height="122.0" fill="#15120f" rx="2"/>
<rect x="750.2" y="411.0" width="14.4" height="122.0" fill="#15120f" rx="2"/>
<rect x="765.8" y="411.0" width="14.4" height="122.0" fill="#15120f" rx="2"/>
<rect x="781.3" y="411.0" width="14.4" height="122.0" fill="#15120f" rx="2"/>
<rect x="1140.0" y="427.0" width="78.0" height="91.0" fill="#1c1018"/>
<rect x="1346.9" y="335.2" width="29.2" height="47.0" fill="#15120f" rx="11.2"/>
<rect x="1346.9" y="408.8" width="29.2" height="49.4" fill="#15120f" rx="11.2"/>
<rect x="1375.9" y="335.2" width="29.7" height="47.0" fill="#15120f" rx="11.2"/>
<rect x="1375.9" y="408.8" width="29.7" height="49.4" fill="#15120f" rx="11.2"/>
<rect x="1406.5" y="335.2" width="28.6" height="47.0" fill="#15120f" rx="11.2"/>
<rect x="1406.5" y="408.8" width="28.6" height="49.4" fill="#15120f" rx="11.2"/>
<rect x="1261.5" y="574.7" width="46.0" height="24.1" fill="#2a1420" rx="3"/>
<rect x="1261.5" y="604.9" width="46.0" height="23.4" fill="#2a1420" rx="3"/>
<rect x="1261.5" y="635.5" width="46.0" height="23.4" fill="#2a1420" rx="3"/>
<rect x="1352.0" y="574.7" width="38.0" height="24.1" fill="#2a1420" rx="3"/>
<rect x="1352.0" y="635.5" width="38.0" height="23.4" fill="#2a1420" rx="3"/>
<rect x="1296.6" y="504.8" width="36.6" height="45.0" fill="#15120f" rx="7.2"/>
<rect x="1408.8" y="504.8" width="31.5" height="45.0" fill="#15120f" rx="7.2"/>
<rect x="1043.6" y="596.8" width="28.4" height="48.0" fill="#2a1420" rx="3"/>
<rect x="1043.6" y="773.6" width="28.4" height="52.5" fill="#2a1420" rx="3"/>
<rect x="1083.7" y="596.8" width="28.4" height="48.0" fill="#2a1420" rx="3"/>
<rect x="1083.7" y="773.6" width="28.4" height="52.5" fill="#2a1420" rx="3"/>
<rect x="1123.6" y="596.8" width="28.4" height="48.0" fill="#2a1420" rx="3"/>
<rect x="1123.6" y="773.6" width="28.4" height="52.5" fill="#2a1420" rx="3"/>
<rect x="1163.3" y="596.8" width="28.4" height="48.0" fill="#2a1420" rx="3"/>
<rect x="1163.3" y="773.6" width="28.4" height="52.5" fill="#2a1420" rx="3"/>
<rect x="1503.0" y="318.5" width="74.0" height="45.5" fill="#15120f" rx="22.75"/>
<rect x="1503.0" y="588.5" width="74.0" height="45.5" fill="#15120f" rx="22.75"/>
<rect x="1644.0" y="318.5" width="59.0" height="45.5" fill="#15120f" rx="22.75"/>
<rect x="1644.0" y="588.5" width="59.0" height="45.5" fill="#15120f" rx="22.75"/>
<rect x="1486.0" y="362.5" width="46.0" height="24.4" fill="#15120f" rx="2"/>
<rect x="1486.0" y="386.8" width="46.0" height="24.4" fill="#15120f" rx="2"/>
<rect x="1486.0" y="413.4" width="46.0" height="15.4" fill="#15120f" rx="2"/>
<rect x="1486.0" y="429.2" width="46.0" height="15.4" fill="#15120f" rx="2"/>
<rect x="1486.0" y="444.9" width="46.0" height="15.4" fill="#15120f" rx="2"/>
<rect x="1486.0" y="460.7" width="46.0" height="15.4" fill="#15120f" rx="2"/>
<rect x="1486.0" y="476.4" width="46.0" height="15.4" fill="#15120f" rx="2"/>
<rect x="1486.0" y="492.2" width="46.0" height="15.4" fill="#15120f" rx="2"/>
<rect x="1486.0" y="507.9" width="46.0" height="15.4" fill="#15120f" rx="2"/>
<rect x="1486.0" y="523.7" width="46.0" height="15.4" fill="#15120f" rx="2"/>
<rect x="1486.0" y="541.0" width="46.0" height="24.4" fill="#15120f" rx="2"/>
<rect x="1486.0" y="565.6" width="46.0" height="24.4" fill="#15120f" rx="2"/>
<rect x="1286.5" y="186.9" width="29.7" height="32.4" fill="#15120f" rx="6.7"/>
<rect x="1456.8" y="186.9" width="18.9" height="32.4" fill="#15120f" rx="6.7"/>
<rect x="1286.5" y="253.5" width="29.7" height="32.7" fill="#15120f" rx="6.7"/>
<rect x="1456.8" y="253.5" width="18.9" height="32.7" fill="#15120f" rx="6.7"/>
<rect x="994.8" y="568.5" width="25.6" height="31.5" fill="#15120f" rx="6.7"/>
<rect x="837.7" y="568.5" width="23.5" height="31.5" fill="#15120f" rx="6.7"/>
<rect x="994.8" y="635.4" width="25.6" height="31.9" fill="#15120f" rx="6.7"/>
<rect x="837.7" y="635.4" width="23.5" height="31.9" fill="#15120f" rx="6.7"/>
<rect x="1094.6" y="138.5" width="41.0" height="40.5" fill="#15120f" rx="14.2"/>
<rect x="1140.6" y="138.5" width="41.0" height="40.5" fill="#15120f" rx="14.2"/>
<rect x="1462.2" y="130.7" width="40.8" height="39.8" fill="#15120f" rx="14.2"/>
<rect x="1507.7" y="130.7" width="40.8" height="39.8" fill="#15120f" rx="14.2"/>
<rect x="770.1" y="679.2" width="41.1" height="40.4" fill="#15120f" rx="14.2"/>
<rect x="770.1" y="726.3" width="41.1" height="40.4" fill="#15120f" rx="14.2"/>
<rect x="866.0" y="679.2" width="41.0" height="40.4" fill="#15120f" rx="14.2"/>
<rect x="866.0" y="726.3" width="41.0" height="40.4" fill="#15120f" rx="14.2"/>
<rect x="271.5" y="163.0" width="75.0" height="52.0" fill="#15120f" rx="26"/>
<rect x="373.0" y="163.0" width="75.0" height="52.0" fill="#15120f" rx="26"/>
<rect x="481.0" y="163.0" width="75.0" height="52.0" fill="#15120f" rx="26"/>
<rect x="270.2" y="363.8" width="75.0" height="52.0" fill="#15120f" rx="26"/>
<rect x="480.2" y="363.8" width="75.0" height="52.0" fill="#15120f" rx="26"/>
<rect x="269.3" y="524.8" width="75.0" height="52.0" fill="#15120f" rx="26"/>
<rect x="369.5" y="524.8" width="75.0" height="52.0" fill="#15120f" rx="26"/>
<rect x="479.9" y="524.8" width="75.0" height="52.0" fill="#15120f" rx="26"/>
<rect x="269.0" y="727.0" width="75.0" height="52.0" fill="#15120f" rx="26"/>
<rect x="481.5" y="727.0" width="75.0" height="52.0" fill="#15120f" rx="26"/>
<path d="M716.0,303.7 L745.0,303.7" fill="none" stroke="#35362a" stroke-width="4.2" stroke-linejoin="round" stroke-linecap="round"/>
<path d="M716.0,329.2 L745.0,329.2" fill="none" stroke="#35362a" stroke-width="4.2" stroke-linejoin="round" stroke-linecap="round"/>
<path d="M848.0,339.0 L816.0,339.0 L807.0,331.0 L793.0,331.0" fill="none" stroke="#35362a" stroke-width="4.2" stroke-linejoin="round" stroke-linecap="round"/>
<path d="M848.0,351.6 L815.0,351.6 L806.0,360.5 L792.0,360.5" fill="none" stroke="#35362a" stroke-width="4.2" stroke-linejoin="round" stroke-linecap="round"/>
<path d="M848.0,364.1 L812.0,364.1 L806.0,370.0 L800.0,374.0" fill="none" stroke="#35362a" stroke-width="4.2" stroke-linejoin="round" stroke-linecap="round"/>
<path d="M848.0,376.7 L810.0,376.7 L806.0,377.6 L732.0,377.6" fill="none" stroke="#35362a" stroke-width="4.2" stroke-linejoin="round" stroke-linecap="round"/>
<path d="M848.0,389.3 L770.0,389.3 L757.5,401.0 L757.5,414.0" fill="none" stroke="#35362a" stroke-width="4.2" stroke-linejoin="round" stroke-linecap="round"/>
<path d="M848.0,401.8 L783.0,401.8 L773.0,411.0 L773.0,414.0" fill="none" stroke="#35362a" stroke-width="4.2" stroke-linejoin="round" stroke-linecap="round"/>
<path d="M848.0,414.4 L812.0,414.4 L804.0,421.0 L804.0,440.0" fill="none" stroke="#35362a" stroke-width="4.2" stroke-linejoin="round" stroke-linecap="round"/>
<path d="M848.0,427.0 L826.0,427.0 L814.0,439.0 L814.0,470.0" fill="none" stroke="#35362a" stroke-width="4.2" stroke-linejoin="round" stroke-linecap="round"/>
<path d="M848.0,439.5 L836.0,439.5 L825.0,450.0 L825.0,480.0" fill="none" stroke="#35362a" stroke-width="4.2" stroke-linejoin="round" stroke-linecap="round"/>
<path d="M848.0,452.1 L842.0,452.1 L836.0,458.0 L836.0,480.0" fill="none" stroke="#35362a" stroke-width="4.2" stroke-linejoin="round" stroke-linecap="round"/>
<path d="M1001.0,214.0 L1001.0,246.0" fill="none" stroke="#35362a" stroke-width="4.0" stroke-linejoin="round" stroke-linecap="round"/>
<path d="M1196.0,280.5 L1211.0,280.5" fill="none" stroke="#35362a" stroke-width="4" stroke-linejoin="round" stroke-linecap="round"/>
<path d="M887.6,492.0 L887.6,562.0" fill="none" stroke="#35362a" stroke-width="4.0" stroke-linejoin="round" stroke-linecap="round"/>
<path d="M898.3,492.0 L898.3,507.5 L910.5,520.7 L910.5,562.0" fill="none" stroke="#35362a" stroke-width="4.0" stroke-linejoin="round" stroke-linecap="round"/>
<path d="M909.4,492.0 L909.4,503.0 L922.6,516.3 L922.6,562.0" fill="none" stroke="#35362a" stroke-width="4.0" stroke-linejoin="round" stroke-linecap="round"/>
<path d="M1446.0,352.0 L1466.4,374.7 L1490.0,374.7" fill="none" stroke="#35362a" stroke-width="4.4" stroke-linejoin="round" stroke-linecap="round"/>
<path d="M1448.5,368.0 L1470.5,399.0 L1490.0,399.0" fill="none" stroke="#35362a" stroke-width="4.4" stroke-linejoin="round" stroke-linecap="round"/>
<path d="M1451.0,392.0 L1477.2,421.1 L1490.0,421.1" fill="none" stroke="#35362a" stroke-width="3.4" stroke-linejoin="round" stroke-linecap="round"/>
<path d="M1453.5,404.0 L1475.5,436.9 L1490.0,436.9" fill="none" stroke="#35362a" stroke-width="3.4" stroke-linejoin="round" stroke-linecap="round"/>
<path d="M1456.0,418.0 L1478.0,452.6 L1490.0,452.6" fill="none" stroke="#35362a" stroke-width="3.4" stroke-linejoin="round" stroke-linecap="round"/>
<path d="M1458.5,434.0 L1480.5,468.4 L1490.0,468.4" fill="none" stroke="#35362a" stroke-width="3.4" stroke-linejoin="round" stroke-linecap="round"/>
<path d="M1461.0,452.0 L1483.0,484.1 L1490.0,484.1" fill="none" stroke="#35362a" stroke-width="3.4" stroke-linejoin="round" stroke-linecap="round"/>
<path d="M1461.0,470.0 L1487.8,499.8 L1490.0,499.8" fill="none" stroke="#35362a" stroke-width="3.4" stroke-linejoin="round" stroke-linecap="round"/>
<path d="M1461.0,490.0 L1484.0,515.6 L1490.0,515.6" fill="none" stroke="#35362a" stroke-width="3.4" stroke-linejoin="round" stroke-linecap="round"/>
<path d="M1461.0,508.0 L1482.1,531.4 L1490.0,531.4" fill="none" stroke="#35362a" stroke-width="3.4" stroke-linejoin="round" stroke-linecap="round"/>
<path d="M1461.0,530.0 L1481.9,553.2 L1490.0,553.2" fill="none" stroke="#35362a" stroke-width="4.4" stroke-linejoin="round" stroke-linecap="round"/>
<path d="M1461.0,552.0 L1484.2,577.8 L1490.0,577.8" fill="none" stroke="#35362a" stroke-width="4.4" stroke-linejoin="round" stroke-linecap="round"/>
<path d="M1440.5,343.0 L1440.5,336.0 L1448.0,328.0" fill="none" stroke="#35362a" stroke-width="4.2" stroke-linejoin="round" stroke-linecap="round"/>
<path d="M772.8,530.0 L772.8,541.0 L780.0,548.5 L798.0,548.5 L822.0,524.5 L822.0,486.0 L836.0,472.0 L848.0,472.0" fill="none" stroke="#35362a" stroke-width="3.8" stroke-linejoin="round" stroke-linecap="round"/>
<path d="M757.2,530.0 L757.2,546.0 L768.0,557.0 L802.0,557.0 L833.0,526.0 L833.0,497.0 L846.0,484.0" fill="none" stroke="#35362a" stroke-width="3.8" stroke-linejoin="round" stroke-linecap="round"/>
<path d="M741.6,530.0 L741.6,551.0 L756.0,565.5 L806.0,565.5 L844.0,527.5 L844.0,505.0 L858.0,491.0" fill="none" stroke="#35362a" stroke-width="3.8" stroke-linejoin="round" stroke-linecap="round"/>
<path d="M788.4,530.0 L788.4,536.0 L794.0,540.0 L810.0,524.0 L810.0,478.0 L824.0,464.0 L848.0,459.5" fill="none" stroke="#35362a" stroke-width="3.8" stroke-linejoin="round" stroke-linecap="round"/>
<path d="M866.0,492.0 L866.0,508.0 L846.0,528.0" fill="none" stroke="#35362a" stroke-width="3.8" stroke-linejoin="round" stroke-linecap="round"/>
<circle cx="658.7" cy="213.3" r="6.0" fill="#15120f"/>
<circle cx="658.7" cy="213.3" r="4.6" fill="#8e8c52"/>
<circle cx="658.7" cy="213.3" r="3.8" fill="#0a0905"/>
<circle cx="826.2" cy="155.0" r="6.0" fill="#15120f"/>
<circle cx="826.2" cy="155.0" r="4.6" fill="#8e8c52"/>
<circle cx="826.2" cy="155.0" r="3.8" fill="#0a0905"/>
<circle cx="715.9" cy="303.7" r="6.0" fill="#15120f"/>
<circle cx="715.9" cy="303.7" r="4.6" fill="#8e8c52"/>
<circle cx="715.9" cy="303.7" r="3.8" fill="#0a0905"/>
<circle cx="715.9" cy="329.2" r="6.0" fill="#15120f"/>
<circle cx="715.9" cy="329.2" r="4.6" fill="#8e8c52"/>
<circle cx="715.9" cy="329.2" r="3.8" fill="#0a0905"/>
<circle cx="692.0" cy="350.1" r="6.0" fill="#15120f"/>
<circle cx="692.0" cy="350.1" r="4.6" fill="#8e8c52"/>
<circle cx="692.0" cy="350.1" r="3.8" fill="#0a0905"/>
<circle cx="675.9" cy="459.8" r="6.0" fill="#15120f"/>
<circle cx="675.9" cy="459.8" r="4.6" fill="#8e8c52"/>
<circle cx="675.9" cy="459.8" r="3.8" fill="#0a0905"/>
<circle cx="656.2" cy="473.8" r="6.0" fill="#15120f"/>
<circle cx="656.2" cy="473.8" r="4.6" fill="#8e8c52"/>
<circle cx="656.2" cy="473.8" r="3.8" fill="#0a0905"/>
<circle cx="713.5" cy="471.3" r="6.0" fill="#15120f"/>
<circle cx="713.5" cy="471.3" r="4.6" fill="#8e8c52"/>
<circle cx="713.5" cy="471.3" r="3.8" fill="#0a0905"/>
<path d="M710.3,471.8 A3.6,3.6 0 0 0 716.5,473.1 L714.0,470.8 Z" fill="#9a9ac0"/>
<circle cx="675.6" cy="508.3" r="6.0" fill="#15120f"/>
<circle cx="675.6" cy="508.3" r="4.6" fill="#8e8c52"/>
<circle cx="675.6" cy="508.3" r="3.8" fill="#0a0905"/>
<circle cx="869.3" cy="516.6" r="6.0" fill="#15120f"/>
<circle cx="869.3" cy="516.6" r="4.6" fill="#8e8c52"/>
<circle cx="869.3" cy="516.6" r="3.8" fill="#0a0905"/>
<path d="M866.1,517.1 A3.6,3.6 0 0 0 872.3,518.4 L869.8,516.1 Z" fill="#9a9ac0"/>
<circle cx="1000.4" cy="233.6" r="6.0" fill="#15120f"/>
<circle cx="1000.4" cy="233.6" r="4.6" fill="#8e8c52"/>
<circle cx="1000.4" cy="233.6" r="3.8" fill="#0a0905"/>
<path d="M997.2,234.1 A3.6,3.6 0 0 0 1003.4,235.4 L1000.9,233.1 Z" fill="#9a9ac0"/>
<circle cx="1097.0" cy="246.5" r="6.0" fill="#15120f"/>
<circle cx="1097.0" cy="246.5" r="4.6" fill="#8e8c52"/>
<circle cx="1097.0" cy="246.5" r="3.8" fill="#0a0905"/>
<path d="M1093.8,247.0 A3.6,3.6 0 0 0 1100.0,248.3 L1097.5,246.0 Z" fill="#9a9ac0"/>
<circle cx="1217.5" cy="147.0" r="6.0" fill="#15120f"/>
<circle cx="1217.5" cy="147.0" r="4.6" fill="#8e8c52"/>
<circle cx="1217.5" cy="147.0" r="3.8" fill="#0a0905"/>
<circle cx="1211.7" cy="280.5" r="6.0" fill="#15120f"/>
<circle cx="1211.7" cy="280.5" r="4.6" fill="#8e8c52"/>
<circle cx="1211.7" cy="280.5" r="3.8" fill="#0a0905"/>
<circle cx="1244.8" cy="330.8" r="6.0" fill="#15120f"/>
<circle cx="1244.8" cy="330.8" r="4.6" fill="#8e8c52"/>
<circle cx="1244.8" cy="330.8" r="3.8" fill="#0a0905"/>
<path d="M1241.6,331.3 A3.6,3.6 0 0 0 1247.8,332.6 L1245.3,330.3 Z" fill="#9a9ac0"/>
<circle cx="1343.4" cy="313.8" r="6.0" fill="#15120f"/>
<circle cx="1343.4" cy="313.8" r="4.6" fill="#8e8c52"/>
<circle cx="1343.4" cy="313.8" r="3.8" fill="#0a0905"/>
<circle cx="1365.8" cy="313.8" r="6.0" fill="#15120f"/>
<circle cx="1365.8" cy="313.8" r="4.6" fill="#8e8c52"/>
<circle cx="1365.8" cy="313.8" r="3.8" fill="#0a0905"/>
<circle cx="1388.2" cy="313.4" r="6.0" fill="#15120f"/>
<circle cx="1388.2" cy="313.4" r="4.6" fill="#8e8c52"/>
<circle cx="1388.2" cy="313.4" r="3.8" fill="#0a0905"/>
<circle cx="1482.8" cy="270.8" r="6.0" fill="#15120f"/>
<circle cx="1482.8" cy="270.8" r="4.6" fill="#8e8c52"/>
<circle cx="1482.8" cy="270.8" r="3.8" fill="#0a0905"/>
<circle cx="1564.4" cy="233.8" r="6.0" fill="#15120f"/>
<circle cx="1564.4" cy="233.8" r="4.6" fill="#8e8c52"/>
<circle cx="1564.4" cy="233.8" r="3.8" fill="#0a0905"/>
<circle cx="1448.8" cy="150.6" r="6.0" fill="#15120f"/>
<circle cx="1448.8" cy="150.6" r="4.6" fill="#8e8c52"/>
<circle cx="1448.8" cy="150.6" r="3.8" fill="#0a0905"/>
<circle cx="1218.3" cy="348.7" r="6.0" fill="#15120f"/>
<circle cx="1218.3" cy="348.7" r="4.6" fill="#8e8c52"/>
<circle cx="1218.3" cy="348.7" r="3.8" fill="#0a0905"/>
<path d="M1215.1,349.2 A3.6,3.6 0 0 0 1221.3,350.5 L1218.8,348.2 Z" fill="#9a9ac0"/>
<circle cx="1309.7" cy="377.5" r="6.0" fill="#15120f"/>
<circle cx="1309.7" cy="377.5" r="4.6" fill="#8e8c52"/>
<circle cx="1309.7" cy="377.5" r="3.8" fill="#0a0905"/>
<circle cx="1308.6" cy="399.8" r="6.0" fill="#15120f"/>
<circle cx="1308.6" cy="399.8" r="4.6" fill="#8e8c52"/>
<circle cx="1308.6" cy="399.8" r="3.8" fill="#0a0905"/>
<circle cx="1208.8" cy="399.0" r="6.0" fill="#15120f"/>
<circle cx="1208.8" cy="399.0" r="4.6" fill="#8e8c52"/>
<circle cx="1208.8" cy="399.0" r="3.8" fill="#0a0905"/>
<path d="M1205.6,399.5 A3.6,3.6 0 0 0 1211.8,400.8 L1209.3,398.5 Z" fill="#9a9ac0"/>
<circle cx="1111.3" cy="414.5" r="6.0" fill="#15120f"/>
<circle cx="1111.3" cy="414.5" r="4.6" fill="#8e8c52"/>
<circle cx="1111.3" cy="414.5" r="3.8" fill="#0a0905"/>
<path d="M1108.1,415.0 A3.6,3.6 0 0 0 1114.3,416.3 L1111.8,414.0 Z" fill="#9a9ac0"/>
<circle cx="1392.5" cy="484.7" r="6.0" fill="#15120f"/>
<circle cx="1392.5" cy="484.7" r="4.6" fill="#8e8c52"/>
<circle cx="1392.5" cy="484.7" r="3.8" fill="#0a0905"/>
<circle cx="1194.1" cy="579.3" r="6.0" fill="#15120f"/>
<circle cx="1194.1" cy="579.3" r="4.6" fill="#8e8c52"/>
<circle cx="1194.1" cy="579.3" r="3.8" fill="#0a0905"/>
<path d="M1190.9,579.8 A3.6,3.6 0 0 0 1197.1,581.1 L1194.6,578.8 Z" fill="#9a9ac0"/>
<circle cx="1477.5" cy="604.2" r="6.0" fill="#15120f"/>
<circle cx="1477.5" cy="604.2" r="4.6" fill="#8e8c52"/>
<circle cx="1477.5" cy="604.2" r="3.8" fill="#0a0905"/>
<circle cx="1326.6" cy="676.9" r="6.0" fill="#15120f"/>
<circle cx="1326.6" cy="676.9" r="4.6" fill="#8e8c52"/>
<circle cx="1326.6" cy="676.9" r="3.8" fill="#0a0905"/>
<circle cx="1391.0" cy="693.5" r="6.0" fill="#15120f"/>
<circle cx="1391.0" cy="693.5" r="4.6" fill="#8e8c52"/>
<circle cx="1391.0" cy="693.5" r="3.8" fill="#0a0905"/>
<circle cx="1522.8" cy="686.3" r="6.0" fill="#15120f"/>
<circle cx="1522.8" cy="686.3" r="4.6" fill="#8e8c52"/>
<circle cx="1522.8" cy="686.3" r="3.8" fill="#0a0905"/>
<circle cx="1355.5" cy="746.0" r="6.0" fill="#15120f"/>
<circle cx="1355.5" cy="746.0" r="4.6" fill="#8e8c52"/>
<circle cx="1355.5" cy="746.0" r="3.8" fill="#0a0905"/>
<circle cx="981.9" cy="538.5" r="6.0" fill="#15120f"/>
<circle cx="981.9" cy="538.5" r="4.6" fill="#8e8c52"/>
<circle cx="981.9" cy="538.5" r="3.8" fill="#0a0905"/>
<path d="M978.7,539.0 A3.6,3.6 0 0 0 984.9,540.3 L982.4,538.0 Z" fill="#9a9ac0"/>
<circle cx="1061.2" cy="535.1" r="6.0" fill="#15120f"/>
<circle cx="1061.2" cy="535.1" r="4.6" fill="#8e8c52"/>
<circle cx="1061.2" cy="535.1" r="3.8" fill="#0a0905"/>
<path d="M1058.0,535.6 A3.6,3.6 0 0 0 1064.2,536.9 L1061.7,534.6 Z" fill="#9a9ac0"/>
<circle cx="698.9" cy="630.8" r="6.0" fill="#15120f"/>
<circle cx="698.9" cy="630.8" r="4.6" fill="#8e8c52"/>
<circle cx="698.9" cy="630.8" r="3.8" fill="#0a0905"/>
<circle cx="759.7" cy="630.0" r="6.0" fill="#15120f"/>
<circle cx="759.7" cy="630.0" r="4.6" fill="#8e8c52"/>
<circle cx="759.7" cy="630.0" r="3.8" fill="#0a0905"/>
<path d="M756.5,630.5 A3.6,3.6 0 0 0 762.7,631.8 L760.2,629.5 Z" fill="#9a9ac0"/>
<circle cx="658.6" cy="643.7" r="6.0" fill="#15120f"/>
<circle cx="658.6" cy="643.7" r="4.6" fill="#8e8c52"/>
<circle cx="658.6" cy="643.7" r="3.8" fill="#0a0905"/>
<circle cx="657.0" cy="809.1" r="6.0" fill="#15120f"/>
<circle cx="657.0" cy="809.1" r="4.6" fill="#8e8c52"/>
<circle cx="657.0" cy="809.1" r="3.8" fill="#0a0905"/>
<circle cx="943.8" cy="801.8" r="6.0" fill="#15120f"/>
<circle cx="943.8" cy="801.8" r="4.6" fill="#8e8c52"/>
<circle cx="943.8" cy="801.8" r="3.8" fill="#0a0905"/>
<circle cx="511.0" cy="473.7" r="6.0" fill="#15120f"/>
<circle cx="511.0" cy="473.7" r="4.6" fill="#8e8c52"/>
<circle cx="511.0" cy="473.7" r="3.8" fill="#0a0905"/>
<circle cx="1243.4" cy="809.6" r="6.0" fill="#15120f"/>
<circle cx="1243.4" cy="809.6" r="4.6" fill="#8e8c52"/>
<circle cx="1243.4" cy="809.6" r="3.8" fill="#0a0905"/>
<rect x="245" y="193.7" width="366.3" height="190.3" fill="none" stroke="#ffffff" stroke-width="7"/>
<rect x="245" y="557.7" width="366.3" height="190.6" fill="none" stroke="#ffffff" stroke-width="7"/>
<path d="M714.0,226.5 L733.0,226.5" fill="none" stroke="#f6f6f6" stroke-width="3.4" stroke-linejoin="round" stroke-linecap="round"/>
<path d="M783.1,183.9 L783.1,194.9" fill="none" stroke="#f6f6f6" stroke-width="3.2" stroke-linejoin="round" stroke-linecap="round"/>
<path d="M806.8,183.9 L806.8,194.9" fill="none" stroke="#f6f6f6" stroke-width="3.2" stroke-linejoin="round" stroke-linecap="round"/>
<path d="M856.6,173.4 L867.6,173.4" fill="none" stroke="#f6f6f6" stroke-width="3.2" stroke-linejoin="round" stroke-linecap="round"/>
<path d="M856.6,208.7 L867.6,208.7" fill="none" stroke="#f6f6f6" stroke-width="3.2" stroke-linejoin="round" stroke-linecap="round"/>
<path d="M757.0,244.4 L768.0,244.4" fill="none" stroke="#f6f6f6" stroke-width="3.2" stroke-linejoin="round" stroke-linecap="round"/>
<path d="M757.0,278.2 L768.0,278.2" fill="none" stroke="#f6f6f6" stroke-width="3.2" stroke-linejoin="round" stroke-linecap="round"/>
<path d="M762.1,289.2 L773.1,289.2" fill="none" stroke="#f6f6f6" stroke-width="3.2" stroke-linejoin="round" stroke-linecap="round"/>
<path d="M762.1,313.3 L773.1,313.3" fill="none" stroke="#f6f6f6" stroke-width="3.2" stroke-linejoin="round" stroke-linecap="round"/>
<path d="M762.1,318.8 L773.1,318.8" fill="none" stroke="#f6f6f6" stroke-width="3.2" stroke-linejoin="round" stroke-linecap="round"/>
<path d="M762.1,342.9 L773.1,342.9" fill="none" stroke="#f6f6f6" stroke-width="3.2" stroke-linejoin="round" stroke-linecap="round"/>
<path d="M761.5,348.4 L772.5,348.4" fill="none" stroke="#f6f6f6" stroke-width="3.2" stroke-linejoin="round" stroke-linecap="round"/>
<path d="M761.5,372.2 L772.5,372.2" fill="none" stroke="#f6f6f6" stroke-width="3.2" stroke-linejoin="round" stroke-linecap="round"/>
<path d="M701.2,365.7 L712.2,365.7" fill="none" stroke="#f6f6f6" stroke-width="3.2" stroke-linejoin="round" stroke-linecap="round"/>
<path d="M701.2,389.3 L712.2,389.3" fill="none" stroke="#f6f6f6" stroke-width="3.2" stroke-linejoin="round" stroke-linecap="round"/>
<path d="M666.3,416.1 L666.3,427.1" fill="none" stroke="#f6f6f6" stroke-width="3.2" stroke-linejoin="round" stroke-linecap="round"/>
<path d="M691.0,416.1 L691.0,427.1" fill="none" stroke="#f6f6f6" stroke-width="3.2" stroke-linejoin="round" stroke-linecap="round"/>
<path d="M696.8,416.4 L696.8,427.4" fill="none" stroke="#f6f6f6" stroke-width="3.2" stroke-linejoin="round" stroke-linecap="round"/>
<path d="M721.7,416.4 L721.7,427.4" fill="none" stroke="#f6f6f6" stroke-width="3.2" stroke-linejoin="round" stroke-linecap="round"/>
<path d="M694.3,519.7 L694.3,530.7" fill="none" stroke="#f6f6f6" stroke-width="3.2" stroke-linejoin="round" stroke-linecap="round"/>
<path d="M719.2,519.7 L719.2,530.7" fill="none" stroke="#f6f6f6" stroke-width="3.2" stroke-linejoin="round" stroke-linecap="round"/>
<path d="M1008.8,188.4 L1019.8,188.4" fill="none" stroke="#f6f6f6" stroke-width="3.2" stroke-linejoin="round" stroke-linecap="round"/>
<path d="M1008.8,212.6 L1019.8,212.6" fill="none" stroke="#f6f6f6" stroke-width="3.2" stroke-linejoin="round" stroke-linecap="round"/>
<path d="M1093.1,188.4 L1104.1,188.4" fill="none" stroke="#f6f6f6" stroke-width="3.2" stroke-linejoin="round" stroke-linecap="round"/>
<path d="M1093.1,212.6 L1104.1,212.6" fill="none" stroke="#f6f6f6" stroke-width="3.2" stroke-linejoin="round" stroke-linecap="round"/>
<path d="M1165.5,265.2 L1176.5,265.2" fill="none" stroke="#f6f6f6" stroke-width="3.2" stroke-linejoin="round" stroke-linecap="round"/>
<path d="M1165.5,290.0 L1176.5,290.0" fill="none" stroke="#f6f6f6" stroke-width="3.2" stroke-linejoin="round" stroke-linecap="round"/>
<path d="M1166.1,318.2 L1177.1,318.2" fill="none" stroke="#f6f6f6" stroke-width="3.2" stroke-linejoin="round" stroke-linecap="round"/>
<path d="M1166.1,341.9 L1177.1,341.9" fill="none" stroke="#f6f6f6" stroke-width="3.2" stroke-linejoin="round" stroke-linecap="round"/>
<path d="M1139.1,378.0 L1139.1,389.0" fill="none" stroke="#f6f6f6" stroke-width="3.2" stroke-linejoin="round" stroke-linecap="round"/>
<path d="M1163.4,378.0 L1163.4,389.0" fill="none" stroke="#f6f6f6" stroke-width="3.2" stroke-linejoin="round" stroke-linecap="round"/>
<path d="M1170.8,378.8 L1170.8,389.8" fill="none" stroke="#f6f6f6" stroke-width="3.2" stroke-linejoin="round" stroke-linecap="round"/>
<path d="M1195.2,378.8 L1195.2,389.8" fill="none" stroke="#f6f6f6" stroke-width="3.2" stroke-linejoin="round" stroke-linecap="round"/>
<path d="M1524.0,183.5 L1535.0,183.5" fill="none" stroke="#f6f6f6" stroke-width="3.2" stroke-linejoin="round" stroke-linecap="round"/>
<path d="M1524.0,207.9 L1535.0,207.9" fill="none" stroke="#f6f6f6" stroke-width="3.2" stroke-linejoin="round" stroke-linecap="round"/>
<path d="M1426.2,302.6 L1437.2,302.6" fill="none" stroke="#f6f6f6" stroke-width="3.2" stroke-linejoin="round" stroke-linecap="round"/>
<path d="M1426.2,326.7 L1437.2,326.7" fill="none" stroke="#f6f6f6" stroke-width="3.2" stroke-linejoin="round" stroke-linecap="round"/>
<path d="M1427.8,466.0 L1438.8,466.0" fill="none" stroke="#f6f6f6" stroke-width="3.2" stroke-linejoin="round" stroke-linecap="round"/>
<path d="M1427.8,489.9 L1438.8,489.9" fill="none" stroke="#f6f6f6" stroke-width="3.2" stroke-linejoin="round" stroke-linecap="round"/>
<path d="M1456.1,616.5 L1467.1,616.5" fill="none" stroke="#f6f6f6" stroke-width="3.2" stroke-linejoin="round" stroke-linecap="round"/>
<path d="M1456.1,640.9 L1467.1,640.9" fill="none" stroke="#f6f6f6" stroke-width="3.2" stroke-linejoin="round" stroke-linecap="round"/>
<path d="M1224.8,606.5 L1224.8,617.5" fill="none" stroke="#f6f6f6" stroke-width="3.2" stroke-linejoin="round" stroke-linecap="round"/>
<path d="M1249.1,606.5 L1249.1,617.5" fill="none" stroke="#f6f6f6" stroke-width="3.2" stroke-linejoin="round" stroke-linecap="round"/>
<path d="M1273.0,429.6 L1290.0,429.6" fill="none" stroke="#f6f6f6" stroke-width="3.4" stroke-linejoin="round" stroke-linecap="round"/>
<path d="M1273.0,476.3 L1290.0,476.3" fill="none" stroke="#f6f6f6" stroke-width="3.4" stroke-linejoin="round" stroke-linecap="round"/>
<path d="M1166.6,529.5 L1177.6,529.5" fill="none" stroke="#f6f6f6" stroke-width="3.2" stroke-linejoin="round" stroke-linecap="round"/>
<path d="M1166.6,562.7 L1177.6,562.7" fill="none" stroke="#f6f6f6" stroke-width="3.2" stroke-linejoin="round" stroke-linecap="round"/>
<path d="M1233.8,526.2 L1233.8,537.2" fill="none" stroke="#f6f6f6" stroke-width="3.2" stroke-linejoin="round" stroke-linecap="round"/>
<path d="M1268.8,526.2 L1268.8,537.2" fill="none" stroke="#f6f6f6" stroke-width="3.2" stroke-linejoin="round" stroke-linecap="round"/>
<path d="M867.1,528.4 L878.1,528.4" fill="none" stroke="#f6f6f6" stroke-width="3.2" stroke-linejoin="round" stroke-linecap="round"/>
<path d="M867.1,552.1 L878.1,552.1" fill="none" stroke="#f6f6f6" stroke-width="3.2" stroke-linejoin="round" stroke-linecap="round"/>
<path d="M1013.8,527.3 L1024.8,527.3" fill="none" stroke="#f6f6f6" stroke-width="3.2" stroke-linejoin="round" stroke-linecap="round"/>
<path d="M1013.8,550.9 L1024.8,550.9" fill="none" stroke="#f6f6f6" stroke-width="3.2" stroke-linejoin="round" stroke-linecap="round"/>
<path d="M986.2,676.9 L997.2,676.9" fill="none" stroke="#f6f6f6" stroke-width="3.2" stroke-linejoin="round" stroke-linecap="round"/>
<path d="M986.2,699.9 L997.2,699.9" fill="none" stroke="#f6f6f6" stroke-width="3.2" stroke-linejoin="round" stroke-linecap="round"/>
<path d="M721.8,646.3 L732.8,646.3" fill="none" stroke="#f6f6f6" stroke-width="3.2" stroke-linejoin="round" stroke-linecap="round"/>
<path d="M721.8,671.1 L732.8,671.1" fill="none" stroke="#f6f6f6" stroke-width="3.2" stroke-linejoin="round" stroke-linecap="round"/>
<path d="M783.0,646.3 L794.0,646.3" fill="none" stroke="#f6f6f6" stroke-width="3.2" stroke-linejoin="round" stroke-linecap="round"/>
<path d="M783.0,671.1 L794.0,671.1" fill="none" stroke="#f6f6f6" stroke-width="3.2" stroke-linejoin="round" stroke-linecap="round"/>
<path d="M988.7,752.2 L988.7,763.2" fill="none" stroke="#f6f6f6" stroke-width="3.2" stroke-linejoin="round" stroke-linecap="round"/>
<path d="M1014.0,752.2 L1014.0,763.2" fill="none" stroke="#f6f6f6" stroke-width="3.2" stroke-linejoin="round" stroke-linecap="round"/>
<path d="M981.1,791.5 L992.1,791.5" fill="none" stroke="#f6f6f6" stroke-width="3.2" stroke-linejoin="round" stroke-linecap="round"/>
<path d="M981.1,815.8 L992.1,815.8" fill="none" stroke="#f6f6f6" stroke-width="3.2" stroke-linejoin="round" stroke-linecap="round"/>
<path d="M725.1,717.5 L725.1,728.5" fill="none" stroke="#f6f6f6" stroke-width="3.2" stroke-linejoin="round" stroke-linecap="round"/>
<path d="M760.1,717.5 L760.1,728.5" fill="none" stroke="#f6f6f6" stroke-width="3.2" stroke-linejoin="round" stroke-linecap="round"/>
<path d="M821.0,717.5 L821.0,728.5" fill="none" stroke="#f6f6f6" stroke-width="3.2" stroke-linejoin="round" stroke-linecap="round"/>
<path d="M856.4,717.5 L856.4,728.5" fill="none" stroke="#f6f6f6" stroke-width="3.2" stroke-linejoin="round" stroke-linecap="round"/>
<circle cx="843.8" cy="495.2" r="6.3" fill="none" stroke="#ffffff" stroke-width="3.8"/>
<circle cx="888.2" cy="507.0" r="3.0" fill="#ffffff"/>
<path d="M730.2,421.0 L730.2,523.0" fill="none" stroke="#ffffff" stroke-width="3.6" stroke-linejoin="round" stroke-linecap="round"/>
<path d="M798.6,421.5 L798.6,523.0" fill="none" stroke="#ffffff" stroke-width="4.6" stroke-linejoin="round" stroke-linecap="round"/>
<circle cx="723.8" cy="534.6" r="8.8" fill="#000000"/>
<circle cx="740.6" cy="535.4" r="6.2" fill="#ffffff"/>
<rect x="1138.3" y="425.6" width="78.3" height="93.4" fill="none" stroke="#ffffff" stroke-width="4.2"/>
<path d="M1342.6,367.5 L1342.6,426.5" fill="none" stroke="#ffffff" stroke-width="3.6" stroke-linejoin="round" stroke-linecap="round"/>
<path d="M1342.6,367.5 L1345.0,366.5" fill="none" stroke="#ffffff" stroke-width="2.5" stroke-linejoin="round" stroke-linecap="round"/>
<path d="M1342.6,426.5 L1345.0,427.5" fill="none" stroke="#ffffff" stroke-width="2.5" stroke-linejoin="round" stroke-linecap="round"/>
<path d="M1436.7,351 L1450.3,341.9 L1450.3,360.1 Z" fill="#ffffff"/>
<path d="M1299.5,565.8 L1351.0,565.8" fill="none" stroke="#ffffff" stroke-width="5.4" stroke-linejoin="round" stroke-linecap="round"/>
<path d="M1299.5,668.6 L1351.0,668.6" fill="none" stroke="#ffffff" stroke-width="5.4" stroke-linejoin="round" stroke-linecap="round"/>
<path d="M1358.6,603.0 L1358.6,631.5" fill="none" stroke="#ffffff" stroke-width="4.6" stroke-linejoin="round" stroke-linecap="round"/>
<path d="M1300.5,501.0 L1412.0,501.0" fill="none" stroke="#ffffff" stroke-width="4.4" stroke-linejoin="round" stroke-linecap="round"/>
<path d="M1324.5,553.2 L1330.0,553.2" fill="none" stroke="#ffffff" stroke-width="4.4" stroke-linejoin="round" stroke-linecap="round"/>
<path d="M1036.5,771.6 V649.6 H1199.6 V771.6" fill="none" stroke="#ffffff" stroke-width="5.6"/>
<path d="M1035.8,778.0 L1035.8,821.5" fill="none" stroke="#ffffff" stroke-width="5.6" stroke-linejoin="round" stroke-linecap="round"/>
<circle cx="1024.3" cy="799.6" r="5.7" fill="none" stroke="#ffffff" stroke-width="3.6"/>
<path d="M1310.5,288.3 L1446.5,288.3" fill="none" stroke="#ffffff" stroke-width="4.6" stroke-linejoin="round" stroke-linecap="round"/>
<path d="M862.0,566.2 L996.0,566.2" fill="none" stroke="#ffffff" stroke-width="4.6" stroke-linejoin="round" stroke-linecap="round"/>
<path d="M1001.0,674.6 L1013.0,674.6" fill="none" stroke="#ffffff" stroke-width="3.4" stroke-linejoin="round" stroke-linecap="round"/>
<path d="M820.0,672.2 L832.0,672.2" fill="none" stroke="#ffffff" stroke-width="3.4" stroke-linejoin="round" stroke-linecap="round"/>
<path d="M1111.4,137.6 H1185 V181 H1111.4" fill="none" stroke="#ffffff" stroke-width="4.2"/>
<path d="M1067.5,159.4 L1091.2,159.4" fill="none" stroke="#ffffff" stroke-width="4.6" stroke-linejoin="round" stroke-linecap="round"/>
<path d="M1079.3,147.8 L1079.3,171.0" fill="none" stroke="#ffffff" stroke-width="4.6" stroke-linejoin="round" stroke-linecap="round"/>
<circle cx="1194.5" cy="159" r="3.2" fill="none" stroke="#ffffff" stroke-width="2.4"/>
<path d="M1203.2,148.0 L1203.2,170.5" fill="none" stroke="#ffffff" stroke-width="4.4" stroke-linejoin="round" stroke-linecap="round"/>
<path d="M1532,130 H1460.8 V174 H1532" fill="none" stroke="#ffffff" stroke-width="4.2"/>
<path d="M1557.5,150.0 L1580.5,150.0" fill="none" stroke="#ffffff" stroke-width="4.6" stroke-linejoin="round" stroke-linecap="round"/>
<path d="M1569.0,138.5 L1569.0,161.5" fill="none" stroke="#ffffff" stroke-width="4.6" stroke-linejoin="round" stroke-linecap="round"/>
<path d="M1436.1,139.8 L1436.1,161.0" fill="none" stroke="#ffffff" stroke-width="4.4" stroke-linejoin="round" stroke-linecap="round"/>
<path d="M767.6,749 V677.6 H814.1 V749" fill="none" stroke="#ffffff" stroke-width="4"/>
<path d="M864,749 V677.6 H910.2 V749" fill="none" stroke="#ffffff" stroke-width="4"/>
<path d="M784.6,771.7 L798.2,771.7" fill="none" stroke="#ffffff" stroke-width="2.6" stroke-linejoin="round" stroke-linecap="round"/>
<path d="M791.4,765.0 L791.4,778.5" fill="none" stroke="#ffffff" stroke-width="2.6" stroke-linejoin="round" stroke-linecap="round"/>
<path d="M882.1,771.7 L895.7,771.7" fill="none" stroke="#ffffff" stroke-width="2.6" stroke-linejoin="round" stroke-linecap="round"/>
<path d="M888.9,765.0 L888.9,778.5" fill="none" stroke="#ffffff" stroke-width="2.6" stroke-linejoin="round" stroke-linecap="round"/>
<rect x="1163.6" y="182.3" width="127.0" height="55.599999999999994" fill="#ffffff" mask="url(#mRST)"/>
<rect x="669.5" y="562.3" width="179.10000000000002" height="56.700000000000045" fill="#ffffff" mask="url(#mBOOT)"/>
<rect x="760.2" y="783" width="58.39999999999998" height="42.39999999999998" fill="#ffffff" mask="url(#mTX)"/>
<rect x="855.8" y="783" width="60.80000000000007" height="42.39999999999998" fill="#ffffff" mask="url(#mRX)"/>
<text x="336.4" y="161.2" font-size="66.9" fill="#ffffff" >IN</text>
<text x="335.0" y="820.8" font-size="67.2" fill="#ffffff" >OUT</text>
</g>
<rect x="678.2" y="177.9" width="36.6" height="47.9" fill="#dedede" rx="9"/>
<rect x="733.2" y="177.9" width="36.6" height="47.9" fill="#dedede" rx="9"/>
<rect x="785.3" y="165.5" width="19.3" height="19.2" fill="#dedede" rx="6"/>
<rect x="785.3" y="194.2" width="19.3" height="19.2" fill="#dedede" rx="6"/>
<rect x="823.9" y="175.6" width="30.6" height="30.9" fill="#dedede" rx="8"/>
<rect x="869.8" y="175.6" width="30.6" height="30.9" fill="#dedede" rx="8"/>
<rect x="724.2" y="246.6" width="30.6" height="29.4" fill="#dedede" rx="8"/>
<rect x="770.1" y="246.6" width="30.6" height="29.4" fill="#dedede" rx="8"/>
<rect x="743.4" y="291.4" width="19.4" height="19.7" fill="#dedede" rx="6"/>
<rect x="772.5" y="291.4" width="19.4" height="19.7" fill="#dedede" rx="6"/>
<rect x="743.4" y="321.0" width="19.4" height="19.7" fill="#dedede" rx="6"/>
<rect x="772.5" y="321.0" width="19.4" height="19.7" fill="#dedede" rx="6"/>
<rect x="743.4" y="350.6" width="18.8" height="19.4" fill="#dedede" rx="6"/>
<rect x="771.7" y="350.6" width="18.8" height="19.4" fill="#dedede" rx="6"/>
<rect x="683.3" y="367.9" width="18.8" height="19.2" fill="#dedede" rx="6"/>
<rect x="711.4" y="367.9" width="18.8" height="19.2" fill="#dedede" rx="6"/>
<rect x="668.5" y="397.3" width="20.3" height="19.4" fill="#dedede" rx="6"/>
<rect x="668.5" y="426.4" width="20.3" height="19.4" fill="#dedede" rx="6"/>
<rect x="699.0" y="398.0" width="20.5" height="19.1" fill="#dedede" rx="6"/>
<rect x="699.0" y="426.7" width="20.5" height="19.1" fill="#dedede" rx="6"/>
<rect x="696.5" y="501.0" width="20.5" height="19.4" fill="#dedede" rx="6"/>
<rect x="696.5" y="530.0" width="20.5" height="19.4" fill="#dedede" rx="6"/>
<rect x="990.4" y="190.6" width="19.1" height="19.8" fill="#dedede" rx="6"/>
<rect x="1019.1" y="190.6" width="19.1" height="19.8" fill="#dedede" rx="6"/>
<rect x="1074.3" y="190.6" width="19.4" height="19.8" fill="#dedede" rx="6"/>
<rect x="1103.5" y="190.6" width="19.4" height="19.8" fill="#dedede" rx="6"/>
<rect x="1147.0" y="267.4" width="19.2" height="20.4" fill="#dedede" rx="6"/>
<rect x="1175.7" y="267.4" width="19.2" height="20.4" fill="#dedede" rx="6"/>
<rect x="1148.0" y="320.4" width="18.9" height="19.3" fill="#dedede" rx="6"/>
<rect x="1176.3" y="320.4" width="18.9" height="19.3" fill="#dedede" rx="6"/>
<rect x="1141.3" y="359.4" width="19.9" height="19.3" fill="#dedede" rx="6"/>
<rect x="1141.3" y="388.4" width="19.9" height="19.3" fill="#dedede" rx="6"/>
<rect x="1173.0" y="360.8" width="20.0" height="18.8" fill="#dedede" rx="6"/>
<rect x="1173.0" y="388.9" width="20.0" height="18.8" fill="#dedede" rx="6"/>
<rect x="1505.5" y="185.7" width="19.2" height="20.0" fill="#dedede" rx="6"/>
<rect x="1534.3" y="185.7" width="19.2" height="20.0" fill="#dedede" rx="6"/>
<rect x="1407.3" y="304.8" width="19.5" height="19.7" fill="#dedede" rx="6"/>
<rect x="1436.5" y="304.8" width="19.5" height="19.7" fill="#dedede" rx="6"/>
<rect x="1408.8" y="468.2" width="19.6" height="19.5" fill="#dedede" rx="6"/>
<rect x="1438.1" y="468.2" width="19.6" height="19.5" fill="#dedede" rx="6"/>
<rect x="1437.3" y="618.7" width="19.4" height="20.0" fill="#dedede" rx="6"/>
<rect x="1466.5" y="618.7" width="19.4" height="20.0" fill="#dedede" rx="6"/>
<rect x="1227.0" y="587.7" width="19.9" height="19.5" fill="#dedede" rx="6"/>
<rect x="1227.0" y="616.9" width="19.9" height="19.5" fill="#dedede" rx="6"/>
<rect x="1236.0" y="430.4" width="36.3" height="45.3" fill="#dedede" rx="9"/>
<rect x="1290.4" y="430.4" width="36.3" height="45.3" fill="#dedede" rx="9"/>
<rect x="1133.6" y="531.7" width="30.8" height="28.8" fill="#dedede" rx="8"/>
<rect x="1179.8" y="531.7" width="30.8" height="28.8" fill="#dedede" rx="8"/>
<rect x="1236.0" y="494.0" width="30.6" height="30.2" fill="#dedede" rx="8"/>
<rect x="1236.0" y="539.3" width="30.6" height="30.2" fill="#dedede" rx="8"/>
<rect x="848.6" y="530.6" width="19.2" height="19.3" fill="#dedede" rx="6"/>
<rect x="877.4" y="530.6" width="19.2" height="19.3" fill="#dedede" rx="6"/>
<rect x="995.5" y="529.5" width="19.0" height="19.2" fill="#dedede" rx="6"/>
<rect x="1024.1" y="529.5" width="19.0" height="19.2" fill="#dedede" rx="6"/>
<rect x="968.3" y="679.1" width="18.8" height="18.6" fill="#dedede" rx="6"/>
<rect x="996.4" y="679.1" width="18.8" height="18.6" fill="#dedede" rx="6"/>
<rect x="703.0" y="648.5" width="19.4" height="20.4" fill="#dedede" rx="6"/>
<rect x="732.1" y="648.5" width="19.4" height="20.4" fill="#dedede" rx="6"/>
<rect x="764.2" y="648.5" width="19.4" height="20.4" fill="#dedede" rx="6"/>
<rect x="793.3" y="648.5" width="19.4" height="20.4" fill="#dedede" rx="6"/>
<rect x="990.9" y="733.2" width="20.9" height="19.6" fill="#dedede" rx="6"/>
<rect x="990.9" y="762.7" width="20.9" height="19.6" fill="#dedede" rx="6"/>
<rect x="961.9" y="793.7" width="19.8" height="19.9" fill="#dedede" rx="6"/>
<rect x="991.5" y="793.7" width="19.8" height="19.9" fill="#dedede" rx="6"/>
<rect x="1409.5" y="665.9" width="37.4" height="46.6" fill="#dedede" rx="9"/>
<rect x="1465.6" y="665.9" width="37.4" height="46.6" fill="#dedede" rx="9"/>
<rect x="727.3" y="684.4" width="30.6" height="30.8" fill="#dedede" rx="9"/>
<rect x="727.3" y="730.7" width="30.6" height="30.8" fill="#dedede" rx="9"/>
<rect x="823.2" y="684.4" width="31.0" height="30.8" fill="#dedede" rx="9"/>
<rect x="823.2" y="730.7" width="31.0" height="30.8" fill="#dedede" rx="9"/>
<rect x="884.6" y="248.6" width="6.3" height="10.0" fill="#e9e9e9"/>
<rect x="884.6" y="479.4" width="6.3" height="12.6" fill="#e9e9e9"/>
<rect x="847.6" y="285.6" width="10.0" height="6.3" fill="#e9e9e9"/>
<rect x="1080.0" y="285.6" width="11.0" height="6.3" fill="#e9e9e9"/>
<rect x="897.2" y="248.6" width="6.3" height="10.0" fill="#e9e9e9"/>
<rect x="897.2" y="479.4" width="6.3" height="12.6" fill="#e9e9e9"/>
<rect x="847.6" y="298.2" width="10.0" height="6.3" fill="#e9e9e9"/>
<rect x="1080.0" y="298.2" width="11.0" height="6.3" fill="#e9e9e9"/>
<rect x="909.7" y="248.6" width="6.3" height="10.0" fill="#e9e9e9"/>
<rect x="909.7" y="479.4" width="6.3" height="12.6" fill="#e9e9e9"/>
<rect x="847.6" y="310.7" width="10.0" height="6.3" fill="#e9e9e9"/>
<rect x="1080.0" y="310.7" width="11.0" height="6.3" fill="#e9e9e9"/>
<rect x="922.3" y="248.6" width="6.3" height="10.0" fill="#e9e9e9"/>
<rect x="922.3" y="479.4" width="6.3" height="12.6" fill="#e9e9e9"/>
<rect x="847.6" y="323.3" width="10.0" height="6.3" fill="#e9e9e9"/>
<rect x="1080.0" y="323.3" width="11.0" height="6.3" fill="#e9e9e9"/>
<rect x="934.9" y="248.6" width="6.3" height="10.0" fill="#e9e9e9"/>
<rect x="934.9" y="479.4" width="6.3" height="12.6" fill="#e9e9e9"/>
<rect x="847.6" y="335.9" width="10.0" height="6.3" fill="#e9e9e9"/>
<rect x="1080.0" y="335.9" width="11.0" height="6.3" fill="#e9e9e9"/>
<rect x="947.5" y="248.6" width="6.3" height="10.0" fill="#e9e9e9"/>
<rect x="947.5" y="479.4" width="6.3" height="12.6" fill="#e9e9e9"/>
<rect x="847.6" y="348.5" width="10.0" height="6.3" fill="#e9e9e9"/>
<rect x="1080.0" y="348.5" width="11.0" height="6.3" fill="#e9e9e9"/>
<rect x="960.0" y="248.6" width="6.3" height="10.0" fill="#e9e9e9"/>
<rect x="960.0" y="479.4" width="6.3" height="12.6" fill="#e9e9e9"/>
<rect x="847.6" y="361.0" width="10.0" height="6.3" fill="#e9e9e9"/>
<rect x="1080.0" y="361.0" width="11.0" height="6.3" fill="#e9e9e9"/>
<rect x="972.6" y="248.6" width="6.3" height="10.0" fill="#e9e9e9"/>
<rect x="972.6" y="479.4" width="6.3" height="12.6" fill="#e9e9e9"/>
<rect x="847.6" y="373.6" width="10.0" height="6.3" fill="#e9e9e9"/>
<rect x="1080.0" y="373.6" width="11.0" height="6.3" fill="#e9e9e9"/>
<rect x="985.2" y="248.6" width="6.3" height="10.0" fill="#e9e9e9"/>
<rect x="985.2" y="479.4" width="6.3" height="12.6" fill="#e9e9e9"/>
<rect x="847.6" y="386.2" width="10.0" height="6.3" fill="#e9e9e9"/>
<rect x="1080.0" y="386.2" width="11.0" height="6.3" fill="#e9e9e9"/>
<rect x="997.7" y="248.6" width="6.3" height="10.0" fill="#e9e9e9"/>
<rect x="997.7" y="479.4" width="6.3" height="12.6" fill="#e9e9e9"/>
<rect x="847.6" y="398.7" width="10.0" height="6.3" fill="#e9e9e9"/>
<rect x="1080.0" y="398.7" width="11.0" height="6.3" fill="#e9e9e9"/>
<rect x="1010.3" y="248.6" width="6.3" height="10.0" fill="#e9e9e9"/>
<rect x="1010.3" y="479.4" width="6.3" height="12.6" fill="#e9e9e9"/>
<rect x="847.6" y="411.3" width="10.0" height="6.3" fill="#e9e9e9"/>
<rect x="1080.0" y="411.3" width="11.0" height="6.3" fill="#e9e9e9"/>
<rect x="1022.9" y="248.6" width="6.3" height="10.0" fill="#e9e9e9"/>
<rect x="1022.9" y="479.4" width="6.3" height="12.6" fill="#e9e9e9"/>
<rect x="847.6" y="423.9" width="10.0" height="6.3" fill="#e9e9e9"/>
<rect x="1080.0" y="423.9" width="11.0" height="6.3" fill="#e9e9e9"/>
<rect x="1035.4" y="248.6" width="6.3" height="10.0" fill="#e9e9e9"/>
<rect x="1035.4" y="479.4" width="6.3" height="12.6" fill="#e9e9e9"/>
<rect x="847.6" y="436.4" width="10.0" height="6.3" fill="#e9e9e9"/>
<rect x="1080.0" y="436.4" width="11.0" height="6.3" fill="#e9e9e9"/>
<rect x="1048.0" y="248.6" width="6.3" height="10.0" fill="#e9e9e9"/>
<rect x="1048.0" y="479.4" width="6.3" height="12.6" fill="#e9e9e9"/>
<rect x="847.6" y="449.0" width="10.0" height="6.3" fill="#e9e9e9"/>
<rect x="1080.0" y="449.0" width="11.0" height="6.3" fill="#e9e9e9"/>
<rect x="1079.5" y="257.6" width="3.4" height="22.0" fill="#ffffff"/>
<rect x="856.9" y="478.6" width="21.0" height="4.4" fill="#ffffff"/>
<rect x="737.6" y="415.0" width="8.4" height="11.0" fill="#e6e6e6"/>
<rect x="737.6" y="519.0" width="8.4" height="10.0" fill="#e6e6e6"/>
<rect x="753.2" y="415.0" width="8.4" height="11.0" fill="#e6e6e6"/>
<rect x="753.2" y="519.0" width="8.4" height="10.0" fill="#e6e6e6"/>
<rect x="768.8" y="415.0" width="8.4" height="11.0" fill="#e6e6e6"/>
<rect x="768.8" y="519.0" width="8.4" height="10.0" fill="#e6e6e6"/>
<rect x="784.3" y="415.0" width="8.4" height="11.0" fill="#e6e6e6"/>
<rect x="784.3" y="519.0" width="8.4" height="10.0" fill="#e6e6e6"/>
<rect x="1352.1" y="340.4" width="18.8" height="36.6" fill="#dedede" rx="6"/>
<rect x="1352.1" y="414.0" width="18.8" height="39.0" fill="#dedede" rx="6"/>
<rect x="1381.1" y="340.4" width="19.3" height="36.6" fill="#dedede" rx="6"/>
<rect x="1381.1" y="414.0" width="19.3" height="39.0" fill="#dedede" rx="6"/>
<rect x="1411.7" y="340.4" width="18.2" height="36.6" fill="#dedede" rx="6"/>
<rect x="1411.7" y="414.0" width="18.2" height="39.0" fill="#dedede" rx="6"/>
<rect x="1265.0" y="577.9" width="42.0" height="17.7" fill="#e6e6e6"/>
<rect x="1263.2" y="580.9" width="2.2" height="11.7" fill="#f5f3a0"/>
<rect x="1265.0" y="608.1" width="42.0" height="17.0" fill="#e6e6e6"/>
<rect x="1263.2" y="611.1" width="2.2" height="11.0" fill="#f5f3a0"/>
<rect x="1265.0" y="638.7" width="42.0" height="17.0" fill="#e6e6e6"/>
<rect x="1263.2" y="641.7" width="2.2" height="11.0" fill="#f5f3a0"/>
<rect x="1353.0" y="577.9" width="33.1" height="17.7" fill="#e6e6e6"/>
<rect x="1386.0" y="580.9" width="2.2" height="11.7" fill="#f5f3a0"/>
<rect x="1353.0" y="638.7" width="33.1" height="17.0" fill="#e6e6e6"/>
<rect x="1386.0" y="641.7" width="2.2" height="11.0" fill="#f5f3a0"/>
<rect x="1301.8" y="510.0" width="26.2" height="34.6" fill="#dedede" rx="2"/>
<rect x="1414.0" y="510.0" width="21.1" height="34.6" fill="#dedede" rx="2"/>
<rect x="1047.0" y="600.4" width="21.6" height="40.8" fill="#e4e4e4"/>
<rect x="1047.0" y="777.2" width="21.6" height="45.3" fill="#e4e4e4"/>
<rect x="1087.1" y="600.4" width="21.6" height="40.8" fill="#e4e4e4"/>
<rect x="1087.1" y="777.2" width="21.6" height="45.3" fill="#e4e4e4"/>
<rect x="1127.0" y="600.4" width="21.6" height="40.8" fill="#e4e4e4"/>
<rect x="1127.0" y="777.2" width="21.6" height="45.3" fill="#e4e4e4"/>
<rect x="1166.7" y="600.4" width="21.6" height="40.8" fill="#e4e4e4"/>
<rect x="1166.7" y="777.2" width="21.6" height="45.3" fill="#e4e4e4"/>
<rect x="1086.5" y="622.5" width="3.2" height="5.5" fill="#f5f3a0"/>
<rect x="1106.0" y="622.5" width="3.2" height="5.5" fill="#f5f3a0"/>
<rect x="1166.0" y="603.0" width="3.2" height="5.5" fill="#f5f3a0"/>
<rect x="1187.0" y="603.0" width="3.2" height="5.5" fill="#f5f3a0"/>
<rect x="1166.0" y="634.0" width="3.2" height="5.5" fill="#f5f3a0"/>
<rect x="1187.0" y="634.0" width="3.2" height="5.5" fill="#f5f3a0"/>
<rect x="1086.0" y="778.0" width="3.2" height="5.5" fill="#f5f3a0"/>
<rect x="1509.0" y="324.5" width="62.0" height="33.5" fill="#f8f7a6" rx="16.75"/>
<rect x="1509.0" y="594.5" width="62.0" height="33.5" fill="#f8f7a6" rx="16.75"/>
<rect x="1650.0" y="324.5" width="47.0" height="33.5" fill="#f8f7a6" rx="16.75"/>
<rect x="1650.0" y="594.5" width="47.0" height="33.5" fill="#f8f7a6" rx="16.75"/>
<rect x="1516.5" y="334.0" width="36.0" height="16.0" fill="#9c9cc2" rx="8"/>
<rect x="1516.5" y="602.5" width="36.0" height="16.0" fill="#8c8cae" rx="8"/>
<path d="M1524,337 L1546,333 L1546,347 L1524,347 Z" fill="#3b3f46"/>
<path d="M1524,605 L1546,605 L1546,620 L1524,615.5 Z" fill="#3b3f46"/>
<path d="M1526.6,349 V606" stroke="#0a0a0a" stroke-width="3.8" fill="none"/>
<rect x="1490.4" y="365.9" width="26.0" height="17.6" fill="#e3e3e3"/>
<rect x="1510.5" y="366.9" width="20.0" height="15.6" fill="#fbfad0"/>
<rect x="1510.0" y="366.4" width="1.6" height="16.6" fill="#7a744a"/>
<rect x="1490.4" y="390.2" width="26.0" height="17.6" fill="#e3e3e3"/>
<rect x="1510.5" y="391.2" width="20.0" height="15.6" fill="#fbfad0"/>
<rect x="1510.0" y="390.7" width="1.6" height="16.6" fill="#7a744a"/>
<rect x="1490.4" y="416.8" width="26.0" height="8.6" fill="#e3e3e3"/>
<rect x="1510.5" y="417.8" width="20.0" height="6.6" fill="#fbfad0"/>
<rect x="1510.0" y="417.3" width="1.6" height="7.6" fill="#7a744a"/>
<rect x="1490.4" y="432.6" width="26.0" height="8.6" fill="#e3e3e3"/>
<rect x="1510.5" y="433.6" width="20.0" height="6.6" fill="#fbfad0"/>
<rect x="1510.0" y="433.1" width="1.6" height="7.6" fill="#7a744a"/>
<rect x="1490.4" y="448.3" width="26.0" height="8.6" fill="#e3e3e3"/>
<rect x="1510.5" y="449.3" width="20.0" height="6.6" fill="#fbfad0"/>
<rect x="1510.0" y="448.8" width="1.6" height="7.6" fill="#7a744a"/>
<rect x="1490.4" y="464.1" width="26.0" height="8.6" fill="#e3e3e3"/>
<rect x="1510.5" y="465.1" width="20.0" height="6.6" fill="#fbfad0"/>
<rect x="1510.0" y="464.6" width="1.6" height="7.6" fill="#7a744a"/>
<rect x="1490.4" y="479.8" width="26.0" height="8.6" fill="#e3e3e3"/>
<rect x="1510.5" y="480.8" width="20.0" height="6.6" fill="#fbfad0"/>
<rect x="1510.0" y="480.3" width="1.6" height="7.6" fill="#7a744a"/>
<rect x="1490.4" y="495.6" width="26.0" height="8.6" fill="#e3e3e3"/>
<rect x="1510.5" y="496.6" width="20.0" height="6.6" fill="#fbfad0"/>
<rect x="1510.0" y="496.1" width="1.6" height="7.6" fill="#7a744a"/>
<rect x="1490.4" y="511.3" width="26.0" height="8.6" fill="#e3e3e3"/>
<rect x="1510.5" y="512.3" width="20.0" height="6.6" fill="#fbfad0"/>
<rect x="1510.0" y="511.8" width="1.6" height="7.6" fill="#7a744a"/>
<rect x="1490.4" y="527.1" width="26.0" height="8.6" fill="#e3e3e3"/>
<rect x="1510.5" y="528.1" width="20.0" height="6.6" fill="#fbfad0"/>
<rect x="1510.0" y="527.6" width="1.6" height="7.6" fill="#7a744a"/>
<rect x="1490.4" y="544.4" width="26.0" height="17.6" fill="#e3e3e3"/>
<rect x="1510.5" y="545.4" width="20.0" height="15.6" fill="#fbfad0"/>
<rect x="1510.0" y="544.9" width="1.6" height="16.6" fill="#7a744a"/>
<rect x="1490.4" y="569.0" width="26.0" height="17.6" fill="#e3e3e3"/>
<rect x="1510.5" y="570.0" width="20.0" height="15.6" fill="#fbfad0"/>
<rect x="1510.0" y="569.5" width="1.6" height="16.6" fill="#7a744a"/>
<rect x="1291.7" y="192.1" width="19.3" height="22.0" fill="#dedede" rx="1.5"/>
<rect x="1297.0" y="196.1" width="9.0" height="14.0" fill="#ffffff"/>
<rect x="1297.0" y="196.1" width="2.0" height="14.0" fill="#b0b0b0"/>
<rect x="1297.0" y="208.1" width="9.0" height="2.0" fill="#b0b0b0"/>
<rect x="1462.0" y="192.1" width="8.5" height="22.0" fill="#dedede" rx="1.5"/>
<rect x="1291.7" y="258.7" width="19.3" height="22.3" fill="#dedede" rx="1.5"/>
<rect x="1297.0" y="262.7" width="9.0" height="14.3" fill="#ffffff"/>
<rect x="1297.0" y="262.7" width="2.0" height="14.3" fill="#b0b0b0"/>
<rect x="1297.0" y="275.0" width="9.0" height="2.0" fill="#b0b0b0"/>
<rect x="1462.0" y="258.7" width="8.5" height="22.3" fill="#dedede" rx="1.5"/>
<rect x="1000.0" y="573.7" width="15.2" height="21.1" fill="#dedede" rx="1.5"/>
<rect x="1004.5" y="577.7" width="8.0" height="13.1" fill="#ffffff"/>
<rect x="1010.5" y="577.7" width="2.0" height="13.1" fill="#b0b0b0"/>
<rect x="842.9" y="573.7" width="13.1" height="21.1" fill="#dedede" rx="1.5"/>
<rect x="846.0" y="577.7" width="7.0" height="13.1" fill="#ffffff"/>
<rect x="1000.0" y="640.6" width="15.2" height="21.5" fill="#dedede" rx="1.5"/>
<rect x="1004.5" y="644.6" width="8.0" height="13.5" fill="#ffffff"/>
<rect x="1010.5" y="644.6" width="2.0" height="13.5" fill="#b0b0b0"/>
<rect x="842.9" y="640.6" width="13.1" height="21.5" fill="#dedede" rx="1.5"/>
<rect x="846.0" y="644.6" width="7.0" height="13.5" fill="#ffffff"/>
<rect x="1099.8" y="143.7" width="30.6" height="30.1" fill="#dedede" rx="9"/>
<rect x="1145.8" y="143.7" width="30.6" height="30.1" fill="#dedede" rx="9"/>
<rect x="1467.4" y="135.9" width="30.4" height="29.4" fill="#dedede" rx="9"/>
<rect x="1512.9" y="135.9" width="30.4" height="29.4" fill="#dedede" rx="9"/>
<rect x="775.3" y="684.4" width="30.7" height="30.0" fill="#dedede" rx="9"/>
<rect x="775.3" y="731.5" width="30.7" height="30.0" fill="#dedede" rx="9"/>
<rect x="871.2" y="684.4" width="30.6" height="30.0" fill="#dedede" rx="9"/>
<rect x="871.2" y="731.5" width="30.6" height="30.0" fill="#dedede" rx="9"/>
<rect x="277.5" y="169.0" width="63.0" height="40.0" fill="#f8f7a6" rx="20"/>
<g clip-path="url(#jp309_169)"><rect x="287.5" y="178.5" width="43" height="21" fill="url(#wallT)"/><path d="M300.5,199.5 L313.5,178.5 H330.5 V199.5 Z" fill="#a9a9cc"/><path d="M306.5,199.5 L318.5,178.5 H330.5 V199.5 Z" fill="#626262"/></g>
<rect x="379.0" y="169.0" width="63.0" height="40.0" fill="#f8f7a6" rx="20"/>
<g clip-path="url(#jp410_169)"><rect x="389.0" y="178.5" width="43" height="21" fill="url(#wallT)"/><path d="M402.0,199.5 L415.0,178.5 H432.0 V199.5 Z" fill="#a9a9cc"/><path d="M408.0,199.5 L420.0,178.5 H432.0 V199.5 Z" fill="#626262"/></g>
<rect x="487.0" y="169.0" width="63.0" height="40.0" fill="#f8f7a6" rx="20"/>
<g clip-path="url(#jp518_169)"><rect x="497.0" y="178.5" width="43" height="21" fill="url(#wallT)"/><path d="M510.0,199.5 L523.0,178.5 H540.0 V199.5 Z" fill="#a9a9cc"/><path d="M516.0,199.5 L528.0,178.5 H540.0 V199.5 Z" fill="#626262"/></g>
<rect x="276.2" y="369.8" width="63.0" height="40.0" fill="#f8f7a6" rx="20"/>
<g clip-path="url(#jp307_369)"><rect x="286.2" y="379.3" width="43" height="21" fill="url(#wallT)"/><path d="M299.2,379.3 L312.2,400.3 H329.2 V379.3 Z" fill="#9d9dc0"/><path d="M305.2,379.3 L317.2,400.3 H329.2 V379.3 Z" fill="#626262"/></g>
<rect x="486.2" y="369.8" width="63.0" height="40.0" fill="#f8f7a6" rx="20"/>
<g clip-path="url(#jp517_369)"><rect x="496.20000000000005" y="379.3" width="43" height="21" fill="url(#wallT)"/><path d="M509.20000000000005,379.3 L522.2,400.3 H539.2 V379.3 Z" fill="#9d9dc0"/><path d="M515.2,379.3 L527.2,400.3 H539.2 V379.3 Z" fill="#626262"/></g>
<rect x="275.3" y="530.8" width="63.0" height="40.0" fill="#f8f7a6" rx="20"/>
<g clip-path="url(#jp306_530)"><rect x="285.3" y="540.3" width="43" height="21" fill="url(#wallT)"/><path d="M298.3,561.3 L311.3,540.3 H328.3 V561.3 Z" fill="#9494b6"/><path d="M304.3,561.3 L316.3,540.3 H328.3 V561.3 Z" fill="#626262"/></g>
<rect x="375.5" y="530.8" width="63.0" height="40.0" fill="#f8f7a6" rx="20"/>
<g clip-path="url(#jp407_530)"><rect x="385.5" y="540.3" width="43" height="21" fill="url(#wallT)"/><path d="M398.5,561.3 L411.5,540.3 H428.5 V561.3 Z" fill="#9494b6"/><path d="M404.5,561.3 L416.5,540.3 H428.5 V561.3 Z" fill="#626262"/></g>
<rect x="485.9" y="530.8" width="63.0" height="40.0" fill="#f8f7a6" rx="20"/>
<g clip-path="url(#jp517_530)"><rect x="495.9" y="540.3" width="43" height="21" fill="url(#wallT)"/><path d="M508.9,561.3 L521.9,540.3 H538.9 V561.3 Z" fill="#9494b6"/><path d="M514.9,561.3 L526.9,540.3 H538.9 V561.3 Z" fill="#626262"/></g>
<rect x="275.0" y="733.0" width="63.0" height="40.0" fill="#f8f7a6" rx="20"/>
<g clip-path="url(#jp306_733)"><rect x="285.0" y="742.5" width="43" height="21" fill="url(#wallT)"/><path d="M298.0,742.5 L311.0,763.5 H328.0 V742.5 Z" fill="#8787a8"/><path d="M304.0,742.5 L316.0,763.5 H328.0 V742.5 Z" fill="#626262"/></g>
<rect x="487.5" y="733.0" width="63.0" height="40.0" fill="#f8f7a6" rx="20"/>
<g clip-path="url(#jp519_733)"><rect x="497.5" y="742.5" width="43" height="21" fill="url(#wallT)"/><path d="M510.5,742.5 L523.5,763.5 H540.5 V742.5 Z" fill="#8787a8"/><path d="M516.5,742.5 L528.5,763.5 H540.5 V742.5 Z" fill="#626262"/></g>
<use href="#jack"/>
<use href="#jack" transform="translate(0,942) scale(1,-1)"/>
<path d="M750.6,175.7 L756.5,181.3 L756.5,221.5 L750.6,216.0 Z" fill="#4a4d49"/>
<path d="M685.6,216.0 L691.5,221.5 L756.5,221.5 L750.6,216.0 Z" fill="#3c403c"/>
<rect x="685.6" y="175.7" width="65.0" height="40.2" fill="#ffffff"/>
<path d="M699.0,216.0 L704.9,221.5 L743.1,221.5 L737.2,216.0 Z" fill="#1c120e"/>
<rect x="699.0" y="175.7" width="38.2" height="40.2" fill="#c49784"/>
<path d="M801.1,170.6 L803.1,173.2 L803.1,205.7 L801.1,203.2 Z" fill="#4a4d49"/>
<path d="M784.9,203.2 L786.8,205.7 L803.1,205.7 L801.1,203.2 Z" fill="#3c403c"/>
<rect x="784.9" y="170.6" width="16.2" height="32.6" fill="#ffffff"/>
<path d="M801.1,177.3 L803.1,179.9 L803.1,199.0 L801.1,196.5 Z" fill="#1c120e"/>
<rect x="784.9" y="177.3" width="16.2" height="19.2" fill="#c49784"/>
<path d="M885.8,174.1 L887.7,177.8 L887.7,203.7 L885.8,200.1 Z" fill="#4a4d49"/>
<path d="M834.7,200.1 L836.6,203.7 L887.7,203.7 L885.8,200.1 Z" fill="#3c403c"/>
<rect x="834.7" y="174.1" width="51.1" height="26.0" fill="#ffffff"/>
<path d="M844.7,200.1 L846.6,203.7 L877.7,203.7 L875.8,200.1 Z" fill="#1c120e"/>
<rect x="844.7" y="174.1" width="31.1" height="26.0" fill="#c49784"/>
<path d="M785.0,245.9 L788.2,248.7 L788.2,273.4 L785.0,270.6 Z" fill="#4a4d49"/>
<path d="M733.5,270.6 L736.7,273.4 L788.2,273.4 L785.0,270.6 Z" fill="#3c403c"/>
<rect x="733.5" y="245.9" width="51.5" height="24.7" fill="#ffffff"/>
<path d="M743.5,270.6 L746.7,273.4 L778.2,273.4 L775.0,270.6 Z" fill="#1c120e"/>
<rect x="743.5" y="245.9" width="31.5" height="24.7" fill="#c49784"/>
<path d="M782.7,291.8 L784.1,292.8 L784.1,309.3 L782.7,308.3 Z" fill="#4a4d49"/>
<path d="M749.7,308.3 L751.2,309.3 L784.1,309.3 L782.7,308.3 Z" fill="#3c403c"/>
<rect x="749.7" y="291.8" width="33.0" height="16.5" fill="#ffffff"/>
<path d="M756.5,308.3 L757.9,309.3 L777.4,309.3 L775.9,308.3 Z" fill="#101010"/>
<rect x="756.5" y="292.4" width="19.4" height="15.3" fill="#2f3133"/>
<path d="M782.7,321.5 L784.1,322.4 L784.1,338.9 L782.7,338.1 Z" fill="#4a4d49"/>
<path d="M749.7,338.1 L751.2,338.9 L784.1,338.9 L782.7,338.1 Z" fill="#3c403c"/>
<rect x="749.7" y="321.5" width="33.0" height="16.5" fill="#ffffff"/>
<path d="M756.5,338.1 L757.9,338.9 L777.4,338.9 L775.9,338.1 Z" fill="#101010"/>
<rect x="756.5" y="322.1" width="19.4" height="15.3" fill="#2f3133"/>
<path d="M780.8,351.0 L783.0,352.0 L783.0,368.3 L780.8,367.3 Z" fill="#4a4d49"/>
<path d="M748.7,367.3 L750.9,368.3 L783.0,368.3 L780.8,367.3 Z" fill="#3c403c"/>
<rect x="748.7" y="351.0" width="32.0" height="16.3" fill="#ffffff"/>
<path d="M755.3,367.3 L757.5,368.3 L776.4,368.3 L774.2,367.3 Z" fill="#1c120e"/>
<rect x="755.3" y="351.0" width="18.8" height="16.3" fill="#c49784"/>
<path d="M720.0,368.4 L722.7,369.2 L722.7,385.4 L720.0,384.5 Z" fill="#4a4d49"/>
<path d="M688.1,384.5 L690.8,385.4 L722.7,385.4 L720.0,384.5 Z" fill="#3c403c"/>
<rect x="688.1" y="368.4" width="31.9" height="16.1" fill="#ffffff"/>
<path d="M694.6,384.5 L697.4,385.4 L716.1,385.4 L713.4,384.5 Z" fill="#1c120e"/>
<rect x="694.6" y="368.4" width="18.8" height="16.1" fill="#c49784"/>
<path d="M685.2,404.8 L687.2,405.1 L687.2,438.0 L685.2,437.7 Z" fill="#4a4d49"/>
<path d="M668.1,437.7 L670.1,438.0 L687.2,438.0 L685.2,437.7 Z" fill="#3c403c"/>
<rect x="668.1" y="404.8" width="17.1" height="33.0" fill="#ffffff"/>
<path d="M685.2,411.6 L687.2,411.9 L687.2,431.2 L685.2,431.0 Z" fill="#101010"/>
<rect x="668.7" y="411.6" width="15.9" height="19.4" fill="#2f3133"/>
<path d="M715.2,405.2 L717.9,405.6 L717.9,438.2 L715.2,437.7 Z" fill="#4a4d49"/>
<path d="M697.9,437.7 L700.6,438.2 L717.9,438.2 L715.2,437.7 Z" fill="#3c403c"/>
<rect x="697.9" y="405.2" width="17.2" height="32.5" fill="#ffffff"/>
<path d="M715.2,411.9 L717.9,412.3 L717.9,431.5 L715.2,431.0 Z" fill="#1c120e"/>
<rect x="697.9" y="411.9" width="17.2" height="19.1" fill="#c49784"/>
<path d="M713.5,509.1 L715.4,508.7 L715.4,541.7 L713.5,542.0 Z" fill="#4a4d49"/>
<path d="M696.3,509.1 L698.1,508.7 L715.4,508.7 L713.5,509.1 Z" fill="#3c403c"/>
<rect x="696.3" y="509.1" width="17.2" height="32.9" fill="#ffffff"/>
<path d="M713.5,515.8 L715.4,515.5 L715.4,534.9 L713.5,535.2 Z" fill="#101010"/>
<rect x="696.9" y="515.8" width="16.0" height="19.4" fill="#2f3133"/>
<path d="M998.1,189.5 L998.0,192.0 L998.0,208.6 L998.1,206.2 Z" fill="#4a4d49"/>
<path d="M998.1,206.2 L998.0,208.6 L1030.6,208.6 L1030.6,206.2 Z" fill="#3c403c"/>
<rect x="998.1" y="189.5" width="32.5" height="16.6" fill="#ffffff"/>
<path d="M1004.8,206.2 L1004.7,208.6 L1023.9,208.6 L1023.9,206.2 Z" fill="#1c120e"/>
<rect x="1004.8" y="189.5" width="19.1" height="16.6" fill="#c49784"/>
<path d="M1082.6,190.4 L1082.1,192.0 L1082.1,208.6 L1082.6,207.0 Z" fill="#4a4d49"/>
<path d="M1082.6,207.0 L1082.1,208.6 L1115.1,208.6 L1115.7,207.0 Z" fill="#3c403c"/>
<rect x="1082.6" y="190.4" width="33.0" height="16.6" fill="#ffffff"/>
<path d="M1089.4,207.0 L1088.9,208.6 L1108.3,208.6 L1108.9,207.0 Z" fill="#101010"/>
<rect x="1089.4" y="191.0" width="19.4" height="15.4" fill="#2f3133"/>
<path d="M1155.6,267.7 L1154.7,268.8 L1154.7,286.0 L1155.6,284.8 Z" fill="#4a4d49"/>
<path d="M1155.6,284.8 L1154.7,286.0 L1187.2,286.0 L1188.2,284.8 Z" fill="#3c403c"/>
<rect x="1155.6" y="267.7" width="32.6" height="17.1" fill="#ffffff"/>
<path d="M1162.3,284.8 L1161.4,286.0 L1180.5,286.0 L1181.5,284.8 Z" fill="#101010"/>
<rect x="1162.3" y="268.3" width="19.2" height="15.9" fill="#2f3133"/>
<path d="M1157.0,320.5 L1155.6,321.8 L1155.6,338.0 L1157.0,336.7 Z" fill="#4a4d49"/>
<path d="M1157.0,336.7 L1155.6,338.0 L1187.6,338.0 L1189.1,336.7 Z" fill="#3c403c"/>
<rect x="1157.0" y="320.5" width="32.1" height="16.2" fill="#ffffff"/>
<path d="M1163.6,336.7 L1162.2,338.0 L1181.0,338.0 L1182.5,336.7 Z" fill="#1c120e"/>
<rect x="1163.6" y="320.5" width="18.9" height="16.2" fill="#c49784"/>
<path d="M1143.7,366.6 L1142.9,367.1 L1142.9,400.0 L1143.7,399.4 Z" fill="#4a4d49"/>
<path d="M1143.7,399.4 L1142.9,400.0 L1159.6,400.0 L1160.5,399.4 Z" fill="#3c403c"/>
<rect x="1143.7" y="366.6" width="16.7" height="32.8" fill="#ffffff"/>
<path d="M1143.7,373.4 L1142.9,373.9 L1142.9,393.2 L1143.7,392.7 Z" fill="#101010"/>
<rect x="1144.3" y="373.4" width="15.5" height="19.3" fill="#2f3133"/>
<path d="M1176.2,367.5 L1174.6,368.3 L1174.6,400.2 L1176.2,399.4 Z" fill="#4a4d49"/>
<path d="M1176.2,399.4 L1174.6,400.2 L1191.4,400.2 L1193.0,399.4 Z" fill="#3c403c"/>
<rect x="1176.2" y="367.5" width="16.8" height="31.9" fill="#ffffff"/>
<path d="M1176.2,374.1 L1174.6,374.9 L1174.6,393.6 L1176.2,392.8 Z" fill="#1c120e"/>
<rect x="1176.2" y="374.1" width="16.8" height="18.8" fill="#c49784"/>
<path d="M1516.3,185.4 L1513.2,187.1 L1513.2,203.9 L1516.3,202.2 Z" fill="#4a4d49"/>
<path d="M1516.3,202.2 L1513.2,203.9 L1545.8,203.9 L1548.9,202.2 Z" fill="#3c403c"/>
<rect x="1516.3" y="185.4" width="32.6" height="16.8" fill="#ffffff"/>
<path d="M1523.0,202.2 L1519.9,203.9 L1539.1,203.9 L1542.2,202.2 Z" fill="#101010"/>
<rect x="1523.0" y="186.0" width="19.2" height="15.6" fill="#2f3133"/>
<path d="M1417.6,305.2 L1415.1,306.2 L1415.1,322.7 L1417.6,321.8 Z" fill="#4a4d49"/>
<path d="M1417.6,321.8 L1415.1,322.7 L1448.2,322.7 L1450.7,321.8 Z" fill="#3c403c"/>
<rect x="1417.6" y="305.2" width="33.1" height="16.5" fill="#ffffff"/>
<path d="M1424.4,321.8 L1421.9,322.7 L1441.4,322.7 L1443.9,321.8 Z" fill="#101010"/>
<rect x="1424.4" y="305.8" width="19.5" height="15.3" fill="#2f3133"/>
<path d="M1419.2,469.6 L1416.6,469.6 L1416.6,485.9 L1419.2,486.0 Z" fill="#4a4d49"/>
<path d="M1419.2,469.6 L1416.6,469.6 L1449.9,469.6 L1452.4,469.6 Z" fill="#3c403c"/>
<rect x="1419.2" y="469.6" width="33.3" height="16.4" fill="#ffffff"/>
<path d="M1426.0,469.6 L1423.5,469.6 L1443.0,469.6 L1445.6,469.6 Z" fill="#101010"/>
<rect x="1426.0" y="470.2" width="19.6" height="15.2" fill="#2f3133"/>
<path d="M1447.8,621.0 L1445.1,620.1 L1445.1,636.9 L1447.8,637.8 Z" fill="#4a4d49"/>
<path d="M1447.8,621.0 L1445.1,620.1 L1478.1,620.1 L1480.8,621.0 Z" fill="#3c403c"/>
<rect x="1447.8" y="621.0" width="33.0" height="16.8" fill="#ffffff"/>
<path d="M1454.6,621.0 L1451.9,620.1 L1471.3,620.1 L1474.0,621.0 Z" fill="#101010"/>
<rect x="1454.6" y="621.6" width="19.4" height="15.6" fill="#2f3133"/>
<path d="M1230.0,596.3 L1228.6,595.5 L1228.6,628.6 L1230.0,629.5 Z" fill="#4a4d49"/>
<path d="M1230.0,596.3 L1228.6,595.5 L1245.3,595.5 L1246.7,596.3 Z" fill="#3c403c"/>
<rect x="1230.0" y="596.3" width="16.7" height="33.1" fill="#ffffff"/>
<path d="M1230.0,603.2 L1228.6,602.3 L1228.6,621.8 L1230.0,622.6 Z" fill="#101010"/>
<rect x="1230.6" y="603.2" width="15.5" height="19.5" fill="#2f3133"/>
<path d="M1255.0,433.2 L1248.8,433.6 L1248.8,471.6 L1255.0,471.2 Z" fill="#4a4d49"/>
<path d="M1255.0,471.2 L1248.8,471.6 L1313.9,471.6 L1320.0,471.2 Z" fill="#3c403c"/>
<rect x="1255.0" y="433.2" width="65.0" height="38.1" fill="#ffffff"/>
<path d="M1268.7,471.2 L1262.5,471.6 L1300.2,471.6 L1306.3,471.2 Z" fill="#1c120e"/>
<rect x="1268.7" y="433.2" width="37.6" height="38.1" fill="#c49784"/>
<path d="M1148.7,534.7 L1146.6,533.7 L1146.6,557.9 L1148.7,558.9 Z" fill="#4a4d49"/>
<path d="M1148.7,534.7 L1146.6,533.7 L1197.6,533.7 L1199.7,534.7 Z" fill="#3c403c"/>
<rect x="1148.7" y="534.7" width="51.0" height="24.2" fill="#ffffff"/>
<path d="M1159.2,534.7 L1157.1,533.7 L1187.1,533.7 L1189.2,534.7 Z" fill="#1c120e"/>
<rect x="1159.2" y="534.7" width="30.0" height="24.2" fill="#c49784"/>
<path d="M1241.6,506.3 L1238.4,505.5 L1238.4,558.0 L1241.6,558.8 Z" fill="#4a4d49"/>
<path d="M1241.6,506.3 L1238.4,505.5 L1264.2,505.5 L1267.3,506.3 Z" fill="#3c403c"/>
<rect x="1241.6" y="506.3" width="25.7" height="52.5" fill="#ffffff"/>
<path d="M1241.6,516.8 L1238.4,516.0 L1238.4,547.5 L1241.6,548.3 Z" fill="#1c120e"/>
<rect x="1241.6" y="516.8" width="25.7" height="31.5" fill="#c49784"/>
<path d="M887.7,532.6 L888.9,532.0 L888.9,548.2 L887.7,548.8 Z" fill="#4a4d49"/>
<path d="M855.0,532.6 L856.3,532.0 L888.9,532.0 L887.7,532.6 Z" fill="#3c403c"/>
<rect x="855.0" y="532.6" width="32.6" height="16.2" fill="#ffffff"/>
<path d="M861.8,532.6 L863.0,532.0 L882.2,532.0 L881.0,532.6 Z" fill="#1c120e"/>
<rect x="861.8" y="532.6" width="19.2" height="16.2" fill="#c49784"/>
<path d="M1003.2,531.5 L1003.1,530.8 L1003.1,547.0 L1003.2,547.6 Z" fill="#4a4d49"/>
<path d="M1003.2,531.5 L1003.1,530.8 L1035.5,530.8 L1035.6,531.5 Z" fill="#3c403c"/>
<rect x="1003.2" y="531.5" width="32.4" height="16.1" fill="#ffffff"/>
<path d="M1009.9,531.5 L1009.8,530.8 L1028.8,530.8 L1028.9,531.5 Z" fill="#1c120e"/>
<rect x="1009.9" y="531.5" width="19.0" height="16.1" fill="#c49784"/>
<path d="M1007.5,682.4 L1007.7,680.4 L1007.7,696.0 L1007.5,698.0 Z" fill="#4a4d49"/>
<path d="M975.6,682.4 L975.8,680.4 L1007.7,680.4 L1007.5,682.4 Z" fill="#3c403c"/>
<rect x="975.6" y="682.4" width="31.9" height="15.6" fill="#ffffff"/>
<path d="M982.2,682.4 L982.4,680.4 L1001.1,680.4 L1001.0,682.4 Z" fill="#1c120e"/>
<rect x="982.2" y="682.4" width="18.8" height="15.6" fill="#c49784"/>
<path d="M742.0,651.1 L743.7,649.9 L743.7,667.1 L742.0,668.2 Z" fill="#4a4d49"/>
<path d="M709.1,651.1 L710.8,649.9 L743.7,649.9 L742.0,651.1 Z" fill="#3c403c"/>
<rect x="709.1" y="651.1" width="33.0" height="17.1" fill="#ffffff"/>
<path d="M715.9,651.1 L717.5,649.9 L737.0,649.9 L735.3,651.1 Z" fill="#101010"/>
<rect x="715.9" y="651.7" width="19.4" height="15.9" fill="#2f3133"/>
<path d="M803.6,651.1 L804.9,649.9 L804.9,667.1 L803.6,668.2 Z" fill="#4a4d49"/>
<path d="M770.6,651.1 L772.0,649.9 L804.9,649.9 L803.6,651.1 Z" fill="#3c403c"/>
<rect x="770.6" y="651.1" width="33.0" height="17.1" fill="#ffffff"/>
<path d="M777.4,651.1 L778.8,649.9 L798.2,649.9 L796.8,651.1 Z" fill="#101010"/>
<rect x="777.4" y="651.7" width="19.4" height="15.9" fill="#2f3133"/>
<path d="M1010.1,742.8 L1010.1,741.1 L1010.1,774.4 L1010.1,776.2 Z" fill="#4a4d49"/>
<path d="M992.5,742.8 L992.6,741.1 L1010.1,741.1 L1010.1,742.8 Z" fill="#3c403c"/>
<rect x="992.5" y="742.8" width="17.6" height="33.4" fill="#ffffff"/>
<path d="M1010.1,749.7 L1010.1,747.9 L1010.1,767.6 L1010.1,769.3 Z" fill="#101010"/>
<rect x="993.1" y="749.7" width="16.4" height="19.6" fill="#2f3133"/>
<path d="M1003.3,797.1 L1003.4,795.1 L1003.4,811.8 L1003.3,813.8 Z" fill="#4a4d49"/>
<path d="M969.7,797.1 L969.8,795.1 L1003.4,795.1 L1003.3,797.1 Z" fill="#3c403c"/>
<rect x="969.7" y="797.1" width="33.6" height="16.7" fill="#ffffff"/>
<path d="M976.6,797.1 L976.7,795.1 L996.5,795.1 L996.3,797.1 Z" fill="#101010"/>
<rect x="976.6" y="797.7" width="19.8" height="15.5" fill="#2f3133"/>
<path d="M1432.0,673.4 L1423.2,669.2 L1423.2,708.3 L1432.0,712.6 Z" fill="#4a4d49"/>
<path d="M1432.0,673.4 L1423.2,669.2 L1489.2,669.2 L1498.0,673.4 Z" fill="#3c403c"/>
<rect x="1432.0" y="673.4" width="66.0" height="39.1" fill="#ffffff"/>
<path d="M1446.0,673.4 L1437.2,669.2 L1475.2,669.2 L1484.0,673.4 Z" fill="#1c120e"/>
<rect x="1446.0" y="673.4" width="38.0" height="39.1" fill="#c49784"/>
<path d="M753.6,699.7 L755.5,697.9 L755.5,748.0 L753.6,749.8 Z" fill="#4a4d49"/>
<path d="M727.9,699.7 L729.7,697.9 L755.5,697.9 L753.6,699.7 Z" fill="#3c403c"/>
<rect x="727.9" y="699.7" width="25.7" height="50.1" fill="#ffffff"/>
<path d="M753.6,710.7 L755.5,708.9 L755.5,737.0 L753.6,738.8 Z" fill="#101010"/>
<rect x="728.5" y="710.7" width="24.5" height="28.1" fill="#2f3133"/>
<path d="M850.5,699.7 L851.7,697.9 L851.7,748.0 L850.5,749.8 Z" fill="#4a4d49"/>
<path d="M824.5,699.7 L825.7,697.9 L851.7,697.9 L850.5,699.7 Z" fill="#3c403c"/>
<rect x="824.5" y="699.7" width="26.0" height="50.1" fill="#ffffff"/>
<path d="M850.5,710.7 L851.7,708.9 L851.7,737.0 L850.5,738.8 Z" fill="#101010"/>
<rect x="825.1" y="710.7" width="24.8" height="28.1" fill="#2f3133"/>
<rect x="856.9" y="257.6" width="223.6" height="222.8" fill="#868686"/>
<rect x="731.9" y="425.2" width="63.3" height="94.6" fill="url(#purG)" rx="2"/>
<text x="737.0" y="463.5" font-size="13" fill="#8f8fb4" font-family="Liberation Mono, monospace" textLength="50" lengthAdjust="spacingAndGlyphs" opacity="0.5">U?ON  8</text>
<circle cx="743.1" cy="507.0" r="3.0" fill="#ffffff"/>
<rect x="1145.3" y="431.0" width="68.5" height="83.2" fill="#6b6b6b"/>
<rect x="1141.2" y="443.5" width="2.6" height="5.5" fill="#f0ee90"/>
<circle cx="1205.4" cy="499.0" r="1.8" fill="#d8d8d8"/>
<circle cx="1216.8" cy="518.8" r="5.6" fill="none" stroke="#ffffff" stroke-width="3.4"/>
<circle cx="1217.5" cy="517.5" r="1.6" fill="#ffffff"/>
<rect x="1355.6" y="357.5" width="15.8" height="16.0" fill="url(#pinV)" rx="2"/>
<rect x="1355.6" y="417.0" width="15.8" height="17.0" fill="url(#pinV)" rx="2"/>
<rect x="1384.6" y="357.5" width="16.3" height="16.0" fill="url(#pinV)" rx="2"/>
<rect x="1384.6" y="417.0" width="16.3" height="17.0" fill="url(#pinV)" rx="2"/>
<rect x="1415.2" y="357.5" width="15.2" height="16.0" fill="url(#pinV)" rx="2"/>
<rect x="1415.2" y="417.0" width="15.2" height="17.0" fill="url(#pinV)" rx="2"/>
<rect x="1351.6" y="372.1" width="92.5" height="45.8" fill="#1c1c1c" rx="1.5"/>
<rect x="1357.5" y="372.1" width="86.6" height="43.5" fill="#474747" rx="1.5"/>
<circle cx="1432.8" cy="384.3" r="4.0" fill="#f3e3c8"/>
<circle cx="1446.5" cy="365.5" r="2.0" fill="#ffffff"/>
<circle cx="1446.5" cy="424.0" r="2.0" fill="#ffffff"/>
<rect x="1279.0" y="579.4" width="27.0" height="14.7" fill="url(#pinH)"/>
<rect x="1279.0" y="609.6" width="27.0" height="14.0" fill="url(#pinH)"/>
<rect x="1279.0" y="640.2" width="27.0" height="14.0" fill="url(#pinH)"/>
<rect x="1353.0" y="579.4" width="21.0" height="14.7" fill="url(#pinH)"/>
<rect x="1353.0" y="640.2" width="21.0" height="14.0" fill="url(#pinH)"/>
<rect x="1305.2" y="574.1" width="48.7" height="89.1" fill="#222222" rx="1.5"/>
<rect x="1310.0" y="575.5" width="43.9" height="85.5" fill="#575757" rx="1.5"/>
<circle cx="1319.9" cy="587.7" r="3.8" fill="#8d807e"/>
<text x="0.0" y="0.0" font-size="11.5" fill="#909090" transform="translate(1328.3,596.5) rotate(90)" textLength="47" lengthAdjust="spacingAndGlyphs">SOT-23-5</text>
<rect x="1311.5" y="512.5" width="14.0" height="30.0" fill="#ffffff"/>
<rect x="1418.0" y="512.5" width="9.0" height="30.0" fill="#ffffff"/>
<rect x="1326.7" y="502.7" width="88.9" height="51.0" fill="#878787" rx="2"/>
<rect x="1326.7" y="502.7" width="6.0" height="51.0" fill="#3a3a3a" rx="1"/>
<rect x="1332.5" y="504.0" width="4.5" height="49.0" fill="#6a6a6a"/>
<rect x="1337.0" y="504.0" width="9.0" height="48.5" fill="#f8f8f8"/>
<rect x="1330.0" y="551.2" width="85.0" height="2.5" fill="#6c6c6c"/>
<path d="M1050.8,615 H1064.3 L1065.3,632 L1066.8,653 H1053.3 L1051.8,632 Z" fill="url(#legG)"/>
<path d="M1052.3,775 H1065.8 L1064.8,793 L1063.3,813 H1049.8 L1051.3,793 Z" fill="url(#legG2)"/>
<path d="M1090.9,615 H1104.4 L1105.4,632 L1106.9,653 H1093.4 L1091.9,632 Z" fill="url(#legG)"/>
<path d="M1092.4,775 H1105.9 L1104.9,793 L1103.4,813 H1089.9 L1091.4,793 Z" fill="url(#legG2)"/>
<path d="M1130.8,615 H1144.3 L1145.3,632 L1146.8,653 H1133.3 L1131.8,632 Z" fill="url(#legG)"/>
<path d="M1132.3,775 H1145.8 L1144.8,793 L1143.3,813 H1129.8 L1131.3,793 Z" fill="url(#legG2)"/>
<path d="M1170.5,615 H1184.0 L1185.0,632 L1186.5,653 H1173.0 L1171.5,632 Z" fill="url(#legG)"/>
<path d="M1172.0,775 H1185.5 L1184.5,793 L1183.0,813 H1169.5 L1171.0,793 Z" fill="url(#legG2)"/>
<rect x="1040.8" y="652.1" width="156.0" height="123.3" fill="#2a2a2a" rx="3"/>
<rect x="1046.5" y="660.0" width="148.0" height="113.0" fill="url(#soicG)" rx="2"/>
<circle cx="1064.6" cy="758" r="7.5" fill="none" stroke="#4c4c4c" stroke-width="1.2"/>
<text x="1120.8" y="727.0" font-size="23.5" fill="#cfcfcf" text-anchor="middle" textLength="61" lengthAdjust="spacingAndGlyphs">SOIC8</text>
<path d="M1531,360 Q1538,338 1552,331.5 L1560,334 L1562,620 L1552,621 Q1538,612 1531,592 Z" fill="#0d0d0d"/>
<path d="M1552,331.2 H1789 Q1803,331.2 1803,346 V606.5 Q1803,621.4 1789,621.4 H1552 Q1560.5,600 1561,560 V392 Q1560.5,352 1552,331.2 Z" fill="url(#usbG)"/>
<path d="M1552,331.2 Q1560.5,352 1561,392 V560 Q1560.5,600 1552,621.4 L1549.5,618 Q1557,598 1557.5,560 V392 Q1557,354 1549.5,334.5 Z" fill="#4e535c"/>
<path d="M1552.6,392.5 H1584 Q1592.5,392.5 1592.5,401 V432 Q1592.5,440 1585,440 Q1580.5,440 1580,434 L1577.5,407 L1552.6,405 Z" fill="#6e6e6e"/><path d="M1571,393.5 H1576.5 V407 H1571 Z" fill="#151515"/><path d="M1555,407 L1577.5,408.5 L1580,434 Q1568,428 1557.5,430 Q1559,416 1555,407 Z" fill="#dfe6ff"/><path d="M1552.6,405 L1556,407 Q1560,417 1558,431 L1552.6,434 Z" fill="#6a6a6a"/><path d="M1586,393 Q1592.5,393 1592.5,401 V432 Q1592.5,439 1587,440 Z" fill="#50545c" opacity="0.6"/>
<g transform="translate(0,952.6) scale(1,-1)"><path d="M1552.6,392.5 H1584 Q1592.5,392.5 1592.5,401 V432 Q1592.5,440 1585,440 Q1580.5,440 1580,434 L1577.5,407 L1552.6,405 Z" fill="#6e6e6e"/><path d="M1571,393.5 H1576.5 V407 H1571 Z" fill="#151515"/><path d="M1555,407 L1577.5,408.5 L1580,434 Q1568,428 1557.5,430 Q1559,416 1555,407 Z" fill="#dfe6ff"/><path d="M1552.6,405 L1556,407 Q1560,417 1558,431 L1552.6,434 Z" fill="#6a6a6a"/><path d="M1586,393 Q1592.5,393 1592.5,401 V432 Q1592.5,439 1587,440 Z" fill="#50545c" opacity="0.6"/></g>
<rect x="1624.0" y="408.6" width="15.8" height="8.2" fill="url(#notchG)"/>
<rect x="1624.0" y="428.2" width="15.8" height="8.2" fill="url(#notchG)"/>
<rect x="1624.0" y="516.3" width="15.8" height="8.2" fill="url(#notchG)"/>
<rect x="1624.0" y="536.0" width="15.8" height="8.2" fill="url(#notchG)"/>
<path d="M1639.8,404 Q1636.5,422 1639.8,441 Z" fill="#2a2d38"/>
<path d="M1639.8,512 Q1636.5,530 1639.8,549 Z" fill="#2a2d38"/>
<rect x="1308.6" y="184.8" width="10.0" height="100.2" fill="#23231a"/>
<rect x="1308.6" y="279.0" width="152.5" height="6.5" fill="#2b2b20"/>
<rect x="1316.6" y="177.8" width="148.5" height="103.2" fill="#f6f6c6" rx="2"/>
<rect x="1314.6" y="179.3" width="152.5" height="100.2" rx="44.5" ry="48.5" fill="#fdfdd2" stroke="#a3a366" stroke-width="1.8" clip-path="url(#bc1316)"/>
<rect x="1346.3" y="177.8" width="89.1" height="103.2" fill="#fdfdd2"/>
<rect x="1316.6" y="208.8" width="148.5" height="41.3" fill="#fdfdd2"/>
<rect x="1337.0" y="190.6" width="109.8" height="74.8" fill="#55554a" rx="37.3"/>
<g clip-path="url(#ov1316)"><rect x="1338.2" y="191.4" width="107.59999999999991" height="72.6" fill="#2f2f2f"/><rect x="1347.2" y="193.4" width="99.59999999999991" height="62.599999999999994" rx="32.3" fill="#8a8a8a" filter="url(#blur3)"/><rect x="1351.2" y="198.4" width="83.59999999999991" height="55.599999999999994" rx="27.299999999999997" fill="#8b8b8b" filter="url(#blur1)"/></g>
<rect x="858.1" y="566.3" width="139.8" height="6.0" fill="#23231a"/>
<rect x="853.1" y="570.3" width="147.8" height="103.8" fill="#f6f6c6" rx="2"/>
<rect x="851.1" y="571.8" width="151.8" height="100.8" rx="44.3" ry="48.8" fill="#fdfdd2" stroke="#a3a366" stroke-width="1.8" clip-path="url(#bc853)"/>
<rect x="882.7" y="570.3" width="88.7" height="103.8" fill="#fdfdd2"/>
<rect x="853.1" y="601.4" width="147.8" height="41.5" fill="#fdfdd2"/>
<rect x="873.4" y="586.5" width="106.5" height="73.6" fill="#55554a" rx="36.700000000000045"/>
<g clip-path="url(#ov853)"><rect x="874.6" y="587.3" width="104.29999999999995" height="71.40000000000009" fill="#2f2f2f"/><rect x="883.6" y="589.3" width="96.29999999999995" height="61.40000000000009" rx="31.700000000000045" fill="#8a8a8a" filter="url(#blur3)"/><rect x="887.6" y="594.3" width="80.29999999999995" height="54.40000000000009" rx="26.700000000000045" fill="#8b8b8b" filter="url(#blur1)"/></g>
<rect x="1113.8" y="144.7" width="12.4" height="24.1" fill="#fbf8b4"/>
<rect x="1155.0" y="144.7" width="9.8" height="24.1" fill="#fbf8b4"/>
<rect x="1113.8" y="166.3" width="12.4" height="3.0" fill="#ffffff"/>
<rect x="1155.0" y="166.3" width="9.8" height="3.0" fill="#ffffff"/>
<rect x="1127.2" y="165.0" width="26.8" height="4.0" fill="#3b3f3a"/>
<rect x="1126.2" y="139.6" width="28.8" height="26.4" fill="#ffffff"/>
<rect x="1483.3" y="136.9" width="17.0" height="23.4" fill="#fbf8b4"/>
<rect x="1530.9" y="136.9" width="6.6" height="23.4" fill="#fbf8b4"/>
<rect x="1483.3" y="157.8" width="17.0" height="3.0" fill="#ffffff"/>
<rect x="1530.9" y="157.8" width="6.6" height="3.0" fill="#ffffff"/>
<rect x="1501.3" y="156.4" width="28.6" height="4.0" fill="#3b3f3a"/>
<rect x="1500.3" y="131.3" width="30.6" height="26.1" fill="#ffffff"/>
<rect x="777.2" y="699.1" width="24.6" height="14.0" fill="#fbf8b4"/>
<rect x="777.2" y="741.0" width="24.6" height="9.2" fill="#fbf8b4"/>
<rect x="777.2" y="697.6" width="24.6" height="2.0" fill="#6a4a2a"/>
<rect x="799.8" y="714.0" width="3.0" height="30.0" fill="#4a4d49"/>
<rect x="774.2" y="712.7" width="25.6" height="29.5" fill="#ffffff"/>
<rect x="873.5" y="699.1" width="24.5" height="14.0" fill="#fbf8b4"/>
<rect x="873.5" y="741.0" width="24.5" height="9.2" fill="#fbf8b4"/>
<rect x="873.5" y="697.6" width="24.5" height="2.0" fill="#6a4a2a"/>
<rect x="896.0" y="714.0" width="3.0" height="30.0" fill="#4a4d49"/>
<rect x="870.5" y="712.7" width="25.5" height="29.5" fill="#ffffff"/>
<g><g fill="none" stroke="#0a0a0a" stroke-width="2.6" stroke-linecap="round" stroke-linejoin="round"><path d="M215.5,292 V288.5 C215.5,284.5 211.5,282.4 208.5,283.1 C206,283.5 204.5,285 203.8,286.3 C199.5,287 196.5,291 196.6,295.5 C196.7,299.5 198.5,302.3 200.9,303.8 C199.8,306.5 200.5,309.8 203,311.6 C206,313.8 210.5,313.4 212.6,310.8"/><path d="M208.7,293.3 L212,299.6"/><circle cx="214.4" cy="303.6" r="3.2" stroke-width="2.8"/></g><g font-family="Liberation Sans, Arial, sans-serif" fill="#0a0a0a" font-size="9.6"><text transform="translate(205.6,277.3) rotate(-90)" textLength="28.7" lengthAdjust="spacingAndGlyphs">LCEDA</text><text transform="translate(215.8,277.3) rotate(-90)" textLength="36.7" lengthAdjust="spacingAndGlyphs">EasyEDA</text></g></g>
<g transform="translate(0,396.1)"><g fill="none" stroke="#0a0a0a" stroke-width="2.6" stroke-linecap="round" stroke-linejoin="round"><path d="M215.5,292 V288.5 C215.5,284.5 211.5,282.4 208.5,283.1 C206,283.5 204.5,285 203.8,286.3 C199.5,287 196.5,291 196.6,295.5 C196.7,299.5 198.5,302.3 200.9,303.8 C199.8,306.5 200.5,309.8 203,311.6 C206,313.8 210.5,313.4 212.6,310.8"/><path d="M208.7,293.3 L212,299.6"/><circle cx="214.4" cy="303.6" r="3.2" stroke-width="2.8"/></g><g font-family="Liberation Sans, Arial, sans-serif" fill="#0a0a0a" font-size="9.6"><text transform="translate(205.6,277.3) rotate(-90)" textLength="28.7" lengthAdjust="spacingAndGlyphs">LCEDA</text><text transform="translate(215.8,277.3) rotate(-90)" textLength="36.7" lengthAdjust="spacingAndGlyphs">EasyEDA</text></g></g>
</svg>
</body></html>
